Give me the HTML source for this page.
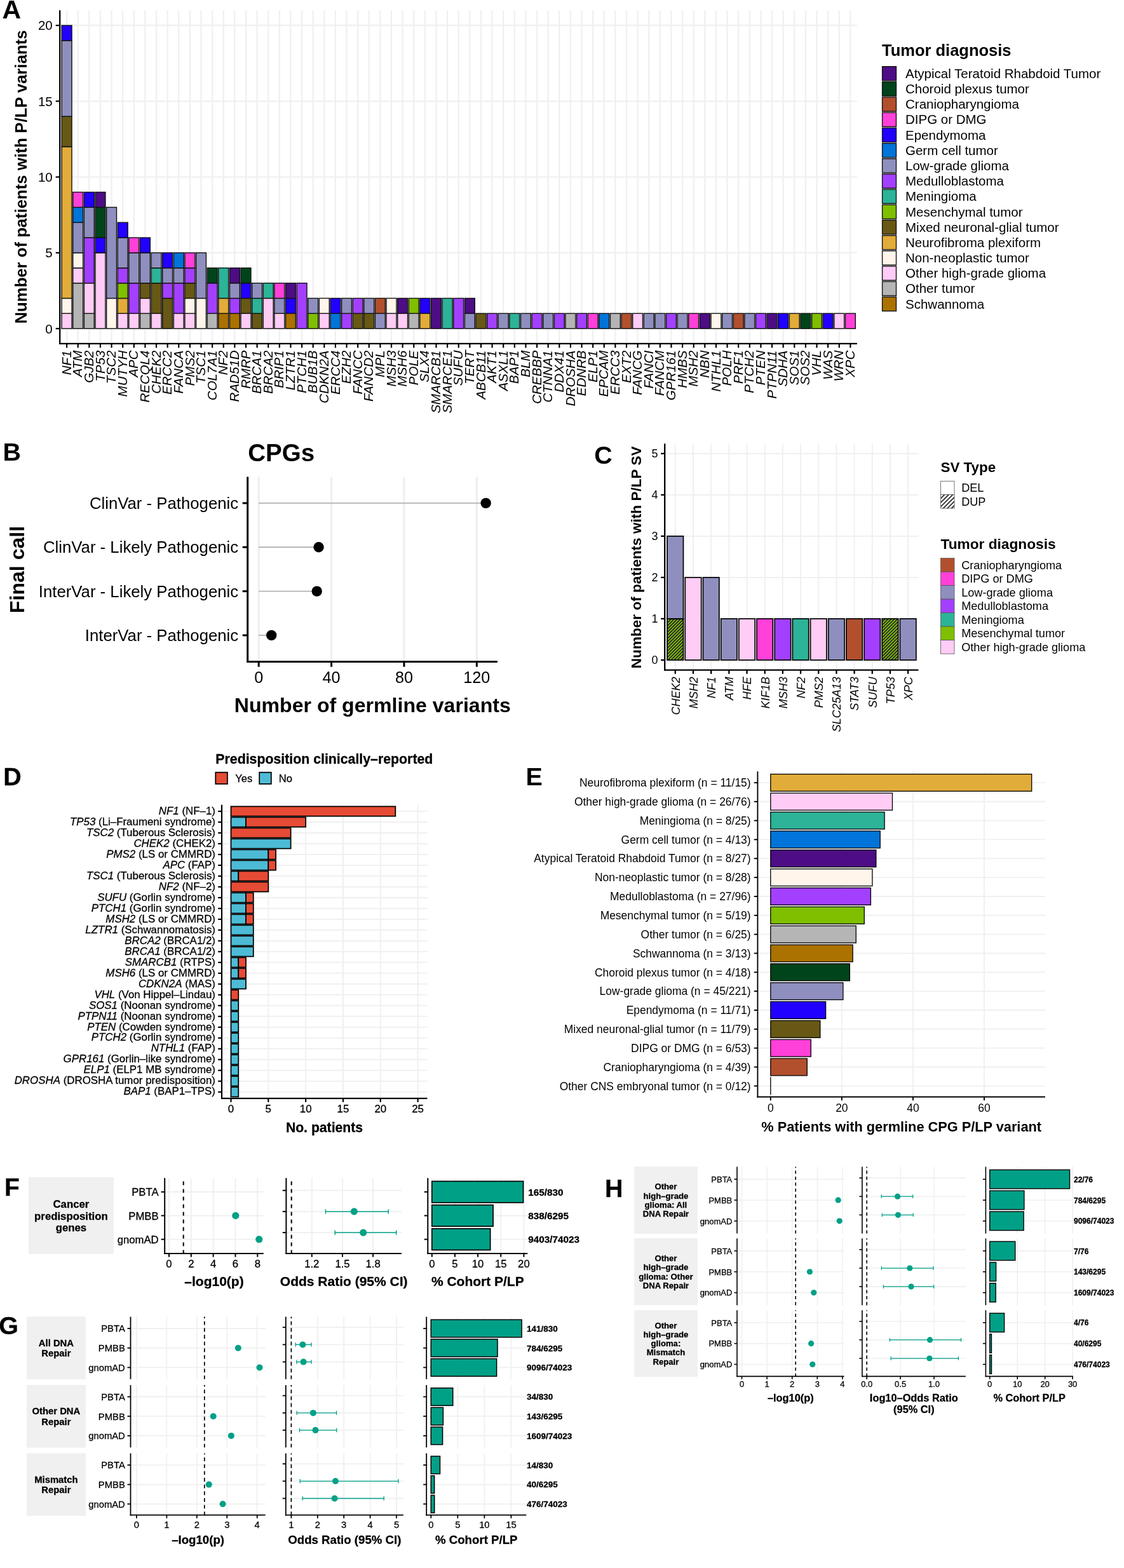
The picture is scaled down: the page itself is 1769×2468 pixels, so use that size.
<!DOCTYPE html>
<html lang="en">
<head>
<meta charset="utf-8">
<title>Figure</title>
<style>
html,body{margin:0;padding:0;background:#fff;}
body{width:1769px;height:2468px;overflow:hidden;}
svg{display:block;font-family:'Liberation Sans', sans-serif;}
text{white-space:pre;}
.rt text{stroke:#000;stroke-width:0.28px;paint-order:stroke fill;}
</style>
</head>
<body>
<svg width="1769" height="2468" viewBox="0 0 1769 2468">
<defs>
<pattern id="hatchC" patternUnits="userSpaceOnUse" width="3.5" height="3.5" patternTransform="rotate(-45)"><rect x="0" y="0" width="3.5" height="1.6" fill="#1c1530"/></pattern>
<pattern id="hatchL" patternUnits="userSpaceOnUse" width="4.6" height="4.6" patternTransform="rotate(-45)"><rect x="0" y="0" width="4.6" height="1.7" fill="#222"/></pattern>
</defs>
<rect x="0" y="0" width="1769" height="2468" fill="#ffffff"/>
<!-- Panel A -->
<g id="panelA">
<text x="3.50" y="28.60" font-size="41.00" font-weight="bold">A</text>
<line x1="94.20" y1="517.20" x2="1348.90" y2="517.20" stroke="#f0f0f0" stroke-width="2.30"/>
<line x1="94.20" y1="397.90" x2="1348.90" y2="397.90" stroke="#f0f0f0" stroke-width="2.30"/>
<line x1="94.20" y1="278.60" x2="1348.90" y2="278.60" stroke="#f0f0f0" stroke-width="2.30"/>
<line x1="94.20" y1="159.30" x2="1348.90" y2="159.30" stroke="#f0f0f0" stroke-width="2.30"/>
<line x1="94.20" y1="40.00" x2="1348.90" y2="40.00" stroke="#f0f0f0" stroke-width="2.30"/>
<line x1="105.10" y1="16.20" x2="105.10" y2="540.90" stroke="#f0f0f0" stroke-width="2.30"/>
<line x1="122.72" y1="16.20" x2="122.72" y2="540.90" stroke="#f0f0f0" stroke-width="2.30"/>
<line x1="140.34" y1="16.20" x2="140.34" y2="540.90" stroke="#f0f0f0" stroke-width="2.30"/>
<line x1="157.95" y1="16.20" x2="157.95" y2="540.90" stroke="#f0f0f0" stroke-width="2.30"/>
<line x1="175.57" y1="16.20" x2="175.57" y2="540.90" stroke="#f0f0f0" stroke-width="2.30"/>
<line x1="193.19" y1="16.20" x2="193.19" y2="540.90" stroke="#f0f0f0" stroke-width="2.30"/>
<line x1="210.81" y1="16.20" x2="210.81" y2="540.90" stroke="#f0f0f0" stroke-width="2.30"/>
<line x1="228.43" y1="16.20" x2="228.43" y2="540.90" stroke="#f0f0f0" stroke-width="2.30"/>
<line x1="246.04" y1="16.20" x2="246.04" y2="540.90" stroke="#f0f0f0" stroke-width="2.30"/>
<line x1="263.66" y1="16.20" x2="263.66" y2="540.90" stroke="#f0f0f0" stroke-width="2.30"/>
<line x1="281.28" y1="16.20" x2="281.28" y2="540.90" stroke="#f0f0f0" stroke-width="2.30"/>
<line x1="298.90" y1="16.20" x2="298.90" y2="540.90" stroke="#f0f0f0" stroke-width="2.30"/>
<line x1="316.52" y1="16.20" x2="316.52" y2="540.90" stroke="#f0f0f0" stroke-width="2.30"/>
<line x1="334.13" y1="16.20" x2="334.13" y2="540.90" stroke="#f0f0f0" stroke-width="2.30"/>
<line x1="351.75" y1="16.20" x2="351.75" y2="540.90" stroke="#f0f0f0" stroke-width="2.30"/>
<line x1="369.37" y1="16.20" x2="369.37" y2="540.90" stroke="#f0f0f0" stroke-width="2.30"/>
<line x1="386.99" y1="16.20" x2="386.99" y2="540.90" stroke="#f0f0f0" stroke-width="2.30"/>
<line x1="404.61" y1="16.20" x2="404.61" y2="540.90" stroke="#f0f0f0" stroke-width="2.30"/>
<line x1="422.22" y1="16.20" x2="422.22" y2="540.90" stroke="#f0f0f0" stroke-width="2.30"/>
<line x1="439.84" y1="16.20" x2="439.84" y2="540.90" stroke="#f0f0f0" stroke-width="2.30"/>
<line x1="457.46" y1="16.20" x2="457.46" y2="540.90" stroke="#f0f0f0" stroke-width="2.30"/>
<line x1="475.08" y1="16.20" x2="475.08" y2="540.90" stroke="#f0f0f0" stroke-width="2.30"/>
<line x1="492.70" y1="16.20" x2="492.70" y2="540.90" stroke="#f0f0f0" stroke-width="2.30"/>
<line x1="510.31" y1="16.20" x2="510.31" y2="540.90" stroke="#f0f0f0" stroke-width="2.30"/>
<line x1="527.93" y1="16.20" x2="527.93" y2="540.90" stroke="#f0f0f0" stroke-width="2.30"/>
<line x1="545.55" y1="16.20" x2="545.55" y2="540.90" stroke="#f0f0f0" stroke-width="2.30"/>
<line x1="563.17" y1="16.20" x2="563.17" y2="540.90" stroke="#f0f0f0" stroke-width="2.30"/>
<line x1="580.79" y1="16.20" x2="580.79" y2="540.90" stroke="#f0f0f0" stroke-width="2.30"/>
<line x1="598.40" y1="16.20" x2="598.40" y2="540.90" stroke="#f0f0f0" stroke-width="2.30"/>
<line x1="616.02" y1="16.20" x2="616.02" y2="540.90" stroke="#f0f0f0" stroke-width="2.30"/>
<line x1="633.64" y1="16.20" x2="633.64" y2="540.90" stroke="#f0f0f0" stroke-width="2.30"/>
<line x1="651.26" y1="16.20" x2="651.26" y2="540.90" stroke="#f0f0f0" stroke-width="2.30"/>
<line x1="668.88" y1="16.20" x2="668.88" y2="540.90" stroke="#f0f0f0" stroke-width="2.30"/>
<line x1="686.49" y1="16.20" x2="686.49" y2="540.90" stroke="#f0f0f0" stroke-width="2.30"/>
<line x1="704.11" y1="16.20" x2="704.11" y2="540.90" stroke="#f0f0f0" stroke-width="2.30"/>
<line x1="721.73" y1="16.20" x2="721.73" y2="540.90" stroke="#f0f0f0" stroke-width="2.30"/>
<line x1="739.35" y1="16.20" x2="739.35" y2="540.90" stroke="#f0f0f0" stroke-width="2.30"/>
<line x1="756.97" y1="16.20" x2="756.97" y2="540.90" stroke="#f0f0f0" stroke-width="2.30"/>
<line x1="774.58" y1="16.20" x2="774.58" y2="540.90" stroke="#f0f0f0" stroke-width="2.30"/>
<line x1="792.20" y1="16.20" x2="792.20" y2="540.90" stroke="#f0f0f0" stroke-width="2.30"/>
<line x1="809.82" y1="16.20" x2="809.82" y2="540.90" stroke="#f0f0f0" stroke-width="2.30"/>
<line x1="827.44" y1="16.20" x2="827.44" y2="540.90" stroke="#f0f0f0" stroke-width="2.30"/>
<line x1="845.06" y1="16.20" x2="845.06" y2="540.90" stroke="#f0f0f0" stroke-width="2.30"/>
<line x1="862.67" y1="16.20" x2="862.67" y2="540.90" stroke="#f0f0f0" stroke-width="2.30"/>
<line x1="880.29" y1="16.20" x2="880.29" y2="540.90" stroke="#f0f0f0" stroke-width="2.30"/>
<line x1="897.91" y1="16.20" x2="897.91" y2="540.90" stroke="#f0f0f0" stroke-width="2.30"/>
<line x1="915.53" y1="16.20" x2="915.53" y2="540.90" stroke="#f0f0f0" stroke-width="2.30"/>
<line x1="933.15" y1="16.20" x2="933.15" y2="540.90" stroke="#f0f0f0" stroke-width="2.30"/>
<line x1="950.76" y1="16.20" x2="950.76" y2="540.90" stroke="#f0f0f0" stroke-width="2.30"/>
<line x1="968.38" y1="16.20" x2="968.38" y2="540.90" stroke="#f0f0f0" stroke-width="2.30"/>
<line x1="986.00" y1="16.20" x2="986.00" y2="540.90" stroke="#f0f0f0" stroke-width="2.30"/>
<line x1="1003.62" y1="16.20" x2="1003.62" y2="540.90" stroke="#f0f0f0" stroke-width="2.30"/>
<line x1="1021.24" y1="16.20" x2="1021.24" y2="540.90" stroke="#f0f0f0" stroke-width="2.30"/>
<line x1="1038.85" y1="16.20" x2="1038.85" y2="540.90" stroke="#f0f0f0" stroke-width="2.30"/>
<line x1="1056.47" y1="16.20" x2="1056.47" y2="540.90" stroke="#f0f0f0" stroke-width="2.30"/>
<line x1="1074.09" y1="16.20" x2="1074.09" y2="540.90" stroke="#f0f0f0" stroke-width="2.30"/>
<line x1="1091.71" y1="16.20" x2="1091.71" y2="540.90" stroke="#f0f0f0" stroke-width="2.30"/>
<line x1="1109.33" y1="16.20" x2="1109.33" y2="540.90" stroke="#f0f0f0" stroke-width="2.30"/>
<line x1="1126.94" y1="16.20" x2="1126.94" y2="540.90" stroke="#f0f0f0" stroke-width="2.30"/>
<line x1="1144.56" y1="16.20" x2="1144.56" y2="540.90" stroke="#f0f0f0" stroke-width="2.30"/>
<line x1="1162.18" y1="16.20" x2="1162.18" y2="540.90" stroke="#f0f0f0" stroke-width="2.30"/>
<line x1="1179.80" y1="16.20" x2="1179.80" y2="540.90" stroke="#f0f0f0" stroke-width="2.30"/>
<line x1="1197.42" y1="16.20" x2="1197.42" y2="540.90" stroke="#f0f0f0" stroke-width="2.30"/>
<line x1="1215.03" y1="16.20" x2="1215.03" y2="540.90" stroke="#f0f0f0" stroke-width="2.30"/>
<line x1="1232.65" y1="16.20" x2="1232.65" y2="540.90" stroke="#f0f0f0" stroke-width="2.30"/>
<line x1="1250.27" y1="16.20" x2="1250.27" y2="540.90" stroke="#f0f0f0" stroke-width="2.30"/>
<line x1="1267.89" y1="16.20" x2="1267.89" y2="540.90" stroke="#f0f0f0" stroke-width="2.30"/>
<line x1="1285.51" y1="16.20" x2="1285.51" y2="540.90" stroke="#f0f0f0" stroke-width="2.30"/>
<line x1="1303.12" y1="16.20" x2="1303.12" y2="540.90" stroke="#f0f0f0" stroke-width="2.30"/>
<line x1="1320.74" y1="16.20" x2="1320.74" y2="540.90" stroke="#f0f0f0" stroke-width="2.30"/>
<line x1="1338.36" y1="16.20" x2="1338.36" y2="540.90" stroke="#f0f0f0" stroke-width="2.30"/>
<rect x="97.17" y="493.34" width="15.86" height="23.86" fill="#ffccf5" stroke="#111" stroke-width="1.40"/>
<rect x="97.17" y="469.48" width="15.86" height="23.86" fill="#fff5eb" stroke="#111" stroke-width="1.40"/>
<rect x="97.17" y="230.88" width="15.86" height="238.60" fill="#e2ac39" stroke="#111" stroke-width="1.40"/>
<rect x="97.17" y="183.16" width="15.86" height="47.72" fill="#685815" stroke="#111" stroke-width="1.40"/>
<rect x="97.17" y="63.86" width="15.86" height="119.30" fill="#8f8fbf" stroke="#111" stroke-width="1.40"/>
<rect x="97.17" y="40.00" width="15.86" height="23.86" fill="#2200ff" stroke="#111" stroke-width="1.40"/>
<rect x="114.79" y="445.62" width="15.86" height="71.58" fill="#b5b5b5" stroke="#111" stroke-width="1.40"/>
<rect x="114.79" y="421.76" width="15.86" height="23.86" fill="#ffccf5" stroke="#111" stroke-width="1.40"/>
<rect x="114.79" y="397.90" width="15.86" height="23.86" fill="#fff5eb" stroke="#111" stroke-width="1.40"/>
<rect x="114.79" y="350.18" width="15.86" height="47.72" fill="#8f8fbf" stroke="#111" stroke-width="1.40"/>
<rect x="114.79" y="326.32" width="15.86" height="23.86" fill="#0074d9" stroke="#111" stroke-width="1.40"/>
<rect x="114.79" y="302.46" width="15.86" height="23.86" fill="#ff40d9" stroke="#111" stroke-width="1.40"/>
<rect x="132.41" y="493.34" width="15.86" height="23.86" fill="#b5b5b5" stroke="#111" stroke-width="1.40"/>
<rect x="132.41" y="445.62" width="15.86" height="47.72" fill="#ffccf5" stroke="#111" stroke-width="1.40"/>
<rect x="132.41" y="374.04" width="15.86" height="71.58" fill="#a340ff" stroke="#111" stroke-width="1.40"/>
<rect x="132.41" y="326.32" width="15.86" height="47.72" fill="#8f8fbf" stroke="#111" stroke-width="1.40"/>
<rect x="132.41" y="302.46" width="15.86" height="23.86" fill="#2200ff" stroke="#111" stroke-width="1.40"/>
<rect x="150.03" y="397.90" width="15.86" height="119.30" fill="#ffccf5" stroke="#111" stroke-width="1.40"/>
<rect x="150.03" y="374.04" width="15.86" height="23.86" fill="#2200ff" stroke="#111" stroke-width="1.40"/>
<rect x="150.03" y="326.32" width="15.86" height="47.72" fill="#00441b" stroke="#111" stroke-width="1.40"/>
<rect x="150.03" y="302.46" width="15.86" height="23.86" fill="#4d0d85" stroke="#111" stroke-width="1.40"/>
<rect x="167.64" y="469.48" width="15.86" height="47.72" fill="#fff5eb" stroke="#111" stroke-width="1.40"/>
<rect x="167.64" y="326.32" width="15.86" height="143.16" fill="#8f8fbf" stroke="#111" stroke-width="1.40"/>
<rect x="185.26" y="493.34" width="15.86" height="23.86" fill="#ffccf5" stroke="#111" stroke-width="1.40"/>
<rect x="185.26" y="469.48" width="15.86" height="23.86" fill="#e2ac39" stroke="#111" stroke-width="1.40"/>
<rect x="185.26" y="445.62" width="15.86" height="23.86" fill="#7fbf00" stroke="#111" stroke-width="1.40"/>
<rect x="185.26" y="421.76" width="15.86" height="23.86" fill="#a340ff" stroke="#111" stroke-width="1.40"/>
<rect x="185.26" y="374.04" width="15.86" height="47.72" fill="#8f8fbf" stroke="#111" stroke-width="1.40"/>
<rect x="185.26" y="350.18" width="15.86" height="23.86" fill="#2200ff" stroke="#111" stroke-width="1.40"/>
<rect x="202.88" y="493.34" width="15.86" height="23.86" fill="#ffccf5" stroke="#111" stroke-width="1.40"/>
<rect x="202.88" y="445.62" width="15.86" height="47.72" fill="#a340ff" stroke="#111" stroke-width="1.40"/>
<rect x="202.88" y="397.90" width="15.86" height="47.72" fill="#8f8fbf" stroke="#111" stroke-width="1.40"/>
<rect x="202.88" y="374.04" width="15.86" height="23.86" fill="#ff40d9" stroke="#111" stroke-width="1.40"/>
<rect x="220.50" y="493.34" width="15.86" height="23.86" fill="#b5b5b5" stroke="#111" stroke-width="1.40"/>
<rect x="220.50" y="469.48" width="15.86" height="23.86" fill="#ffccf5" stroke="#111" stroke-width="1.40"/>
<rect x="220.50" y="445.62" width="15.86" height="23.86" fill="#685815" stroke="#111" stroke-width="1.40"/>
<rect x="220.50" y="397.90" width="15.86" height="47.72" fill="#8f8fbf" stroke="#111" stroke-width="1.40"/>
<rect x="220.50" y="374.04" width="15.86" height="23.86" fill="#2200ff" stroke="#111" stroke-width="1.40"/>
<rect x="238.12" y="493.34" width="15.86" height="23.86" fill="#ffccf5" stroke="#111" stroke-width="1.40"/>
<rect x="238.12" y="445.62" width="15.86" height="47.72" fill="#685815" stroke="#111" stroke-width="1.40"/>
<rect x="238.12" y="421.76" width="15.86" height="23.86" fill="#2db398" stroke="#111" stroke-width="1.40"/>
<rect x="238.12" y="397.90" width="15.86" height="23.86" fill="#8f8fbf" stroke="#111" stroke-width="1.40"/>
<rect x="255.73" y="469.48" width="15.86" height="47.72" fill="#685815" stroke="#111" stroke-width="1.40"/>
<rect x="255.73" y="445.62" width="15.86" height="23.86" fill="#a340ff" stroke="#111" stroke-width="1.40"/>
<rect x="255.73" y="421.76" width="15.86" height="23.86" fill="#8f8fbf" stroke="#111" stroke-width="1.40"/>
<rect x="255.73" y="397.90" width="15.86" height="23.86" fill="#2200ff" stroke="#111" stroke-width="1.40"/>
<rect x="273.35" y="493.34" width="15.86" height="23.86" fill="#ffccf5" stroke="#111" stroke-width="1.40"/>
<rect x="273.35" y="445.62" width="15.86" height="47.72" fill="#a340ff" stroke="#111" stroke-width="1.40"/>
<rect x="273.35" y="421.76" width="15.86" height="23.86" fill="#8f8fbf" stroke="#111" stroke-width="1.40"/>
<rect x="273.35" y="397.90" width="15.86" height="23.86" fill="#0074d9" stroke="#111" stroke-width="1.40"/>
<rect x="290.97" y="493.34" width="15.86" height="23.86" fill="#ffccf5" stroke="#111" stroke-width="1.40"/>
<rect x="290.97" y="469.48" width="15.86" height="23.86" fill="#fff5eb" stroke="#111" stroke-width="1.40"/>
<rect x="290.97" y="445.62" width="15.86" height="23.86" fill="#685815" stroke="#111" stroke-width="1.40"/>
<rect x="290.97" y="421.76" width="15.86" height="23.86" fill="#a340ff" stroke="#111" stroke-width="1.40"/>
<rect x="290.97" y="397.90" width="15.86" height="23.86" fill="#ff40d9" stroke="#111" stroke-width="1.40"/>
<rect x="308.59" y="469.48" width="15.86" height="47.72" fill="#fff5eb" stroke="#111" stroke-width="1.40"/>
<rect x="308.59" y="397.90" width="15.86" height="71.58" fill="#8f8fbf" stroke="#111" stroke-width="1.40"/>
<rect x="326.21" y="493.34" width="15.86" height="23.86" fill="#b5b5b5" stroke="#111" stroke-width="1.40"/>
<rect x="326.21" y="445.62" width="15.86" height="47.72" fill="#a340ff" stroke="#111" stroke-width="1.40"/>
<rect x="326.21" y="421.76" width="15.86" height="23.86" fill="#00441b" stroke="#111" stroke-width="1.40"/>
<rect x="343.82" y="493.34" width="15.86" height="23.86" fill="#ab7200" stroke="#111" stroke-width="1.40"/>
<rect x="343.82" y="469.48" width="15.86" height="23.86" fill="#e2ac39" stroke="#111" stroke-width="1.40"/>
<rect x="343.82" y="421.76" width="15.86" height="47.72" fill="#2db398" stroke="#111" stroke-width="1.40"/>
<rect x="361.44" y="493.34" width="15.86" height="23.86" fill="#ab7200" stroke="#111" stroke-width="1.40"/>
<rect x="361.44" y="469.48" width="15.86" height="23.86" fill="#a340ff" stroke="#111" stroke-width="1.40"/>
<rect x="361.44" y="445.62" width="15.86" height="23.86" fill="#8f8fbf" stroke="#111" stroke-width="1.40"/>
<rect x="361.44" y="421.76" width="15.86" height="23.86" fill="#4d0d85" stroke="#111" stroke-width="1.40"/>
<rect x="379.06" y="493.34" width="15.86" height="23.86" fill="#ffccf5" stroke="#111" stroke-width="1.40"/>
<rect x="379.06" y="469.48" width="15.86" height="23.86" fill="#685815" stroke="#111" stroke-width="1.40"/>
<rect x="379.06" y="445.62" width="15.86" height="23.86" fill="#2200ff" stroke="#111" stroke-width="1.40"/>
<rect x="379.06" y="421.76" width="15.86" height="23.86" fill="#00441b" stroke="#111" stroke-width="1.40"/>
<rect x="396.68" y="493.34" width="15.86" height="23.86" fill="#685815" stroke="#111" stroke-width="1.40"/>
<rect x="396.68" y="469.48" width="15.86" height="23.86" fill="#2db398" stroke="#111" stroke-width="1.40"/>
<rect x="396.68" y="445.62" width="15.86" height="23.86" fill="#8f8fbf" stroke="#111" stroke-width="1.40"/>
<rect x="414.30" y="469.48" width="15.86" height="47.72" fill="#ffccf5" stroke="#111" stroke-width="1.40"/>
<rect x="414.30" y="445.62" width="15.86" height="23.86" fill="#2db398" stroke="#111" stroke-width="1.40"/>
<rect x="431.91" y="493.34" width="15.86" height="23.86" fill="#ffccf5" stroke="#111" stroke-width="1.40"/>
<rect x="431.91" y="469.48" width="15.86" height="23.86" fill="#8f8fbf" stroke="#111" stroke-width="1.40"/>
<rect x="431.91" y="445.62" width="15.86" height="23.86" fill="#ff40d9" stroke="#111" stroke-width="1.40"/>
<rect x="449.53" y="493.34" width="15.86" height="23.86" fill="#ab7200" stroke="#111" stroke-width="1.40"/>
<rect x="449.53" y="469.48" width="15.86" height="23.86" fill="#2200ff" stroke="#111" stroke-width="1.40"/>
<rect x="449.53" y="445.62" width="15.86" height="23.86" fill="#4d0d85" stroke="#111" stroke-width="1.40"/>
<rect x="467.15" y="445.62" width="15.86" height="71.58" fill="#a340ff" stroke="#111" stroke-width="1.40"/>
<rect x="484.77" y="493.34" width="15.86" height="23.86" fill="#7fbf00" stroke="#111" stroke-width="1.40"/>
<rect x="484.77" y="469.48" width="15.86" height="23.86" fill="#8f8fbf" stroke="#111" stroke-width="1.40"/>
<rect x="502.39" y="493.34" width="15.86" height="23.86" fill="#ffccf5" stroke="#111" stroke-width="1.40"/>
<rect x="502.39" y="469.48" width="15.86" height="23.86" fill="#fff5eb" stroke="#111" stroke-width="1.40"/>
<rect x="520.00" y="493.34" width="15.86" height="23.86" fill="#0074d9" stroke="#111" stroke-width="1.40"/>
<rect x="520.00" y="469.48" width="15.86" height="23.86" fill="#2200ff" stroke="#111" stroke-width="1.40"/>
<rect x="537.62" y="493.34" width="15.86" height="23.86" fill="#a340ff" stroke="#111" stroke-width="1.40"/>
<rect x="537.62" y="469.48" width="15.86" height="23.86" fill="#8f8fbf" stroke="#111" stroke-width="1.40"/>
<rect x="555.24" y="493.34" width="15.86" height="23.86" fill="#685815" stroke="#111" stroke-width="1.40"/>
<rect x="555.24" y="469.48" width="15.86" height="23.86" fill="#a340ff" stroke="#111" stroke-width="1.40"/>
<rect x="572.86" y="493.34" width="15.86" height="23.86" fill="#685815" stroke="#111" stroke-width="1.40"/>
<rect x="572.86" y="469.48" width="15.86" height="23.86" fill="#8f8fbf" stroke="#111" stroke-width="1.40"/>
<rect x="590.48" y="493.34" width="15.86" height="23.86" fill="#8f8fbf" stroke="#111" stroke-width="1.40"/>
<rect x="590.48" y="469.48" width="15.86" height="23.86" fill="#b2502d" stroke="#111" stroke-width="1.40"/>
<rect x="608.09" y="493.34" width="15.86" height="23.86" fill="#ffccf5" stroke="#111" stroke-width="1.40"/>
<rect x="608.09" y="469.48" width="15.86" height="23.86" fill="#fff5eb" stroke="#111" stroke-width="1.40"/>
<rect x="625.71" y="493.34" width="15.86" height="23.86" fill="#ffccf5" stroke="#111" stroke-width="1.40"/>
<rect x="625.71" y="469.48" width="15.86" height="23.86" fill="#4d0d85" stroke="#111" stroke-width="1.40"/>
<rect x="643.33" y="493.34" width="15.86" height="23.86" fill="#b5b5b5" stroke="#111" stroke-width="1.40"/>
<rect x="643.33" y="469.48" width="15.86" height="23.86" fill="#7fbf00" stroke="#111" stroke-width="1.40"/>
<rect x="660.95" y="493.34" width="15.86" height="23.86" fill="#e2ac39" stroke="#111" stroke-width="1.40"/>
<rect x="660.95" y="469.48" width="15.86" height="23.86" fill="#2200ff" stroke="#111" stroke-width="1.40"/>
<rect x="678.57" y="469.48" width="15.86" height="47.72" fill="#4d0d85" stroke="#111" stroke-width="1.40"/>
<rect x="696.18" y="469.48" width="15.86" height="47.72" fill="#2db398" stroke="#111" stroke-width="1.40"/>
<rect x="713.80" y="469.48" width="15.86" height="47.72" fill="#a340ff" stroke="#111" stroke-width="1.40"/>
<rect x="731.42" y="493.34" width="15.86" height="23.86" fill="#8f8fbf" stroke="#111" stroke-width="1.40"/>
<rect x="731.42" y="469.48" width="15.86" height="23.86" fill="#4d0d85" stroke="#111" stroke-width="1.40"/>
<rect x="749.04" y="493.34" width="15.86" height="23.86" fill="#685815" stroke="#111" stroke-width="1.40"/>
<rect x="766.66" y="493.34" width="15.86" height="23.86" fill="#a340ff" stroke="#111" stroke-width="1.40"/>
<rect x="784.27" y="493.34" width="15.86" height="23.86" fill="#8f8fbf" stroke="#111" stroke-width="1.40"/>
<rect x="801.89" y="493.34" width="15.86" height="23.86" fill="#2db398" stroke="#111" stroke-width="1.40"/>
<rect x="819.51" y="493.34" width="15.86" height="23.86" fill="#8f8fbf" stroke="#111" stroke-width="1.40"/>
<rect x="837.13" y="493.34" width="15.86" height="23.86" fill="#a340ff" stroke="#111" stroke-width="1.40"/>
<rect x="854.75" y="493.34" width="15.86" height="23.86" fill="#8f8fbf" stroke="#111" stroke-width="1.40"/>
<rect x="872.36" y="493.34" width="15.86" height="23.86" fill="#a340ff" stroke="#111" stroke-width="1.40"/>
<rect x="889.98" y="493.34" width="15.86" height="23.86" fill="#b5b5b5" stroke="#111" stroke-width="1.40"/>
<rect x="907.60" y="493.34" width="15.86" height="23.86" fill="#a340ff" stroke="#111" stroke-width="1.40"/>
<rect x="925.22" y="493.34" width="15.86" height="23.86" fill="#ff40d9" stroke="#111" stroke-width="1.40"/>
<rect x="942.84" y="493.34" width="15.86" height="23.86" fill="#0074d9" stroke="#111" stroke-width="1.40"/>
<rect x="960.45" y="493.34" width="15.86" height="23.86" fill="#b5b5b5" stroke="#111" stroke-width="1.40"/>
<rect x="978.07" y="493.34" width="15.86" height="23.86" fill="#b2502d" stroke="#111" stroke-width="1.40"/>
<rect x="995.69" y="493.34" width="15.86" height="23.86" fill="#ffccf5" stroke="#111" stroke-width="1.40"/>
<rect x="1013.31" y="493.34" width="15.86" height="23.86" fill="#8f8fbf" stroke="#111" stroke-width="1.40"/>
<rect x="1030.93" y="493.34" width="15.86" height="23.86" fill="#8f8fbf" stroke="#111" stroke-width="1.40"/>
<rect x="1048.54" y="493.34" width="15.86" height="23.86" fill="#a340ff" stroke="#111" stroke-width="1.40"/>
<rect x="1066.16" y="493.34" width="15.86" height="23.86" fill="#8f8fbf" stroke="#111" stroke-width="1.40"/>
<rect x="1083.78" y="493.34" width="15.86" height="23.86" fill="#ff40d9" stroke="#111" stroke-width="1.40"/>
<rect x="1101.40" y="493.34" width="15.86" height="23.86" fill="#4d0d85" stroke="#111" stroke-width="1.40"/>
<rect x="1119.02" y="493.34" width="15.86" height="23.86" fill="#fff5eb" stroke="#111" stroke-width="1.40"/>
<rect x="1136.63" y="493.34" width="15.86" height="23.86" fill="#8f8fbf" stroke="#111" stroke-width="1.40"/>
<rect x="1154.25" y="493.34" width="15.86" height="23.86" fill="#b2502d" stroke="#111" stroke-width="1.40"/>
<rect x="1171.87" y="493.34" width="15.86" height="23.86" fill="#8f8fbf" stroke="#111" stroke-width="1.40"/>
<rect x="1189.49" y="493.34" width="15.86" height="23.86" fill="#a340ff" stroke="#111" stroke-width="1.40"/>
<rect x="1207.11" y="493.34" width="15.86" height="23.86" fill="#4d0d85" stroke="#111" stroke-width="1.40"/>
<rect x="1224.72" y="493.34" width="15.86" height="23.86" fill="#2200ff" stroke="#111" stroke-width="1.40"/>
<rect x="1242.34" y="493.34" width="15.86" height="23.86" fill="#e2ac39" stroke="#111" stroke-width="1.40"/>
<rect x="1259.96" y="493.34" width="15.86" height="23.86" fill="#00441b" stroke="#111" stroke-width="1.40"/>
<rect x="1277.58" y="493.34" width="15.86" height="23.86" fill="#7fbf00" stroke="#111" stroke-width="1.40"/>
<rect x="1295.20" y="493.34" width="15.86" height="23.86" fill="#2200ff" stroke="#111" stroke-width="1.40"/>
<rect x="1312.81" y="493.34" width="15.86" height="23.86" fill="#ffccf5" stroke="#111" stroke-width="1.40"/>
<rect x="1330.43" y="493.34" width="15.86" height="23.86" fill="#ff40d9" stroke="#111" stroke-width="1.40"/>
<line x1="94.20" y1="16.20" x2="94.20" y2="542.00" stroke="#000" stroke-width="2.30"/>
<line x1="93.10" y1="540.90" x2="1348.90" y2="540.90" stroke="#000" stroke-width="2.20"/>
<line x1="87.70" y1="517.20" x2="94.20" y2="517.20" stroke="#000" stroke-width="2.20"/>
<text x="82.70" y="524.50" font-size="20.50" text-anchor="end">0</text>
<line x1="87.70" y1="397.90" x2="94.20" y2="397.90" stroke="#000" stroke-width="2.20"/>
<text x="82.70" y="405.20" font-size="20.50" text-anchor="end">5</text>
<line x1="87.70" y1="278.60" x2="94.20" y2="278.60" stroke="#000" stroke-width="2.20"/>
<text x="82.70" y="285.90" font-size="20.50" text-anchor="end">10</text>
<line x1="87.70" y1="159.30" x2="94.20" y2="159.30" stroke="#000" stroke-width="2.20"/>
<text x="82.70" y="166.60" font-size="20.50" text-anchor="end">15</text>
<line x1="87.70" y1="40.00" x2="94.20" y2="40.00" stroke="#000" stroke-width="2.20"/>
<text x="82.70" y="47.30" font-size="20.50" text-anchor="end">20</text>
<line x1="105.10" y1="540.90" x2="105.10" y2="547.40" stroke="#000" stroke-width="2.20"/>
<text x="111.70" y="551.50" font-size="20.50" font-style="italic" text-anchor="end" transform="rotate(-90 111.70 551.50)">NF1</text>
<line x1="122.72" y1="540.90" x2="122.72" y2="547.40" stroke="#000" stroke-width="2.20"/>
<text x="129.32" y="551.50" font-size="20.50" font-style="italic" text-anchor="end" transform="rotate(-90 129.32 551.50)">ATM</text>
<line x1="140.34" y1="540.90" x2="140.34" y2="547.40" stroke="#000" stroke-width="2.20"/>
<text x="146.94" y="551.50" font-size="20.50" font-style="italic" text-anchor="end" transform="rotate(-90 146.94 551.50)">GJB2</text>
<line x1="157.95" y1="540.90" x2="157.95" y2="547.40" stroke="#000" stroke-width="2.20"/>
<text x="164.55" y="551.50" font-size="20.50" font-style="italic" text-anchor="end" transform="rotate(-90 164.55 551.50)">TP53</text>
<line x1="175.57" y1="540.90" x2="175.57" y2="547.40" stroke="#000" stroke-width="2.20"/>
<text x="182.17" y="551.50" font-size="20.50" font-style="italic" text-anchor="end" transform="rotate(-90 182.17 551.50)">TSC2</text>
<line x1="193.19" y1="540.90" x2="193.19" y2="547.40" stroke="#000" stroke-width="2.20"/>
<text x="199.79" y="551.50" font-size="20.50" font-style="italic" text-anchor="end" transform="rotate(-90 199.79 551.50)">MUTYH</text>
<line x1="210.81" y1="540.90" x2="210.81" y2="547.40" stroke="#000" stroke-width="2.20"/>
<text x="217.41" y="551.50" font-size="20.50" font-style="italic" text-anchor="end" transform="rotate(-90 217.41 551.50)">APC</text>
<line x1="228.43" y1="540.90" x2="228.43" y2="547.40" stroke="#000" stroke-width="2.20"/>
<text x="235.03" y="551.50" font-size="20.50" font-style="italic" text-anchor="end" transform="rotate(-90 235.03 551.50)">RECQL4</text>
<line x1="246.04" y1="540.90" x2="246.04" y2="547.40" stroke="#000" stroke-width="2.20"/>
<text x="252.64" y="551.50" font-size="20.50" font-style="italic" text-anchor="end" transform="rotate(-90 252.64 551.50)">CHEK2</text>
<line x1="263.66" y1="540.90" x2="263.66" y2="547.40" stroke="#000" stroke-width="2.20"/>
<text x="270.26" y="551.50" font-size="20.50" font-style="italic" text-anchor="end" transform="rotate(-90 270.26 551.50)">ERCC2</text>
<line x1="281.28" y1="540.90" x2="281.28" y2="547.40" stroke="#000" stroke-width="2.20"/>
<text x="287.88" y="551.50" font-size="20.50" font-style="italic" text-anchor="end" transform="rotate(-90 287.88 551.50)">FANCA</text>
<line x1="298.90" y1="540.90" x2="298.90" y2="547.40" stroke="#000" stroke-width="2.20"/>
<text x="305.50" y="551.50" font-size="20.50" font-style="italic" text-anchor="end" transform="rotate(-90 305.50 551.50)">PMS2</text>
<line x1="316.52" y1="540.90" x2="316.52" y2="547.40" stroke="#000" stroke-width="2.20"/>
<text x="323.12" y="551.50" font-size="20.50" font-style="italic" text-anchor="end" transform="rotate(-90 323.12 551.50)">TSC1</text>
<line x1="334.13" y1="540.90" x2="334.13" y2="547.40" stroke="#000" stroke-width="2.20"/>
<text x="340.73" y="551.50" font-size="20.50" font-style="italic" text-anchor="end" transform="rotate(-90 340.73 551.50)">COL7A1</text>
<line x1="351.75" y1="540.90" x2="351.75" y2="547.40" stroke="#000" stroke-width="2.20"/>
<text x="358.35" y="551.50" font-size="20.50" font-style="italic" text-anchor="end" transform="rotate(-90 358.35 551.50)">NF2</text>
<line x1="369.37" y1="540.90" x2="369.37" y2="547.40" stroke="#000" stroke-width="2.20"/>
<text x="375.97" y="551.50" font-size="20.50" font-style="italic" text-anchor="end" transform="rotate(-90 375.97 551.50)">RAD51D</text>
<line x1="386.99" y1="540.90" x2="386.99" y2="547.40" stroke="#000" stroke-width="2.20"/>
<text x="393.59" y="551.50" font-size="20.50" font-style="italic" text-anchor="end" transform="rotate(-90 393.59 551.50)">RMRP</text>
<line x1="404.61" y1="540.90" x2="404.61" y2="547.40" stroke="#000" stroke-width="2.20"/>
<text x="411.21" y="551.50" font-size="20.50" font-style="italic" text-anchor="end" transform="rotate(-90 411.21 551.50)">BRCA1</text>
<line x1="422.22" y1="540.90" x2="422.22" y2="547.40" stroke="#000" stroke-width="2.20"/>
<text x="428.82" y="551.50" font-size="20.50" font-style="italic" text-anchor="end" transform="rotate(-90 428.82 551.50)">BRCA2</text>
<line x1="439.84" y1="540.90" x2="439.84" y2="547.40" stroke="#000" stroke-width="2.20"/>
<text x="446.44" y="551.50" font-size="20.50" font-style="italic" text-anchor="end" transform="rotate(-90 446.44 551.50)">BRIP1</text>
<line x1="457.46" y1="540.90" x2="457.46" y2="547.40" stroke="#000" stroke-width="2.20"/>
<text x="464.06" y="551.50" font-size="20.50" font-style="italic" text-anchor="end" transform="rotate(-90 464.06 551.50)">LZTR1</text>
<line x1="475.08" y1="540.90" x2="475.08" y2="547.40" stroke="#000" stroke-width="2.20"/>
<text x="481.68" y="551.50" font-size="20.50" font-style="italic" text-anchor="end" transform="rotate(-90 481.68 551.50)">PTCH1</text>
<line x1="492.70" y1="540.90" x2="492.70" y2="547.40" stroke="#000" stroke-width="2.20"/>
<text x="499.30" y="551.50" font-size="20.50" font-style="italic" text-anchor="end" transform="rotate(-90 499.30 551.50)">BUB1B</text>
<line x1="510.31" y1="540.90" x2="510.31" y2="547.40" stroke="#000" stroke-width="2.20"/>
<text x="516.91" y="551.50" font-size="20.50" font-style="italic" text-anchor="end" transform="rotate(-90 516.91 551.50)">CDKN2A</text>
<line x1="527.93" y1="540.90" x2="527.93" y2="547.40" stroke="#000" stroke-width="2.20"/>
<text x="534.53" y="551.50" font-size="20.50" font-style="italic" text-anchor="end" transform="rotate(-90 534.53 551.50)">ERCC4</text>
<line x1="545.55" y1="540.90" x2="545.55" y2="547.40" stroke="#000" stroke-width="2.20"/>
<text x="552.15" y="551.50" font-size="20.50" font-style="italic" text-anchor="end" transform="rotate(-90 552.15 551.50)">EZH2</text>
<line x1="563.17" y1="540.90" x2="563.17" y2="547.40" stroke="#000" stroke-width="2.20"/>
<text x="569.77" y="551.50" font-size="20.50" font-style="italic" text-anchor="end" transform="rotate(-90 569.77 551.50)">FANCC</text>
<line x1="580.79" y1="540.90" x2="580.79" y2="547.40" stroke="#000" stroke-width="2.20"/>
<text x="587.39" y="551.50" font-size="20.50" font-style="italic" text-anchor="end" transform="rotate(-90 587.39 551.50)">FANCD2</text>
<line x1="598.40" y1="540.90" x2="598.40" y2="547.40" stroke="#000" stroke-width="2.20"/>
<text x="605.00" y="551.50" font-size="20.50" font-style="italic" text-anchor="end" transform="rotate(-90 605.00 551.50)">MPL</text>
<line x1="616.02" y1="540.90" x2="616.02" y2="547.40" stroke="#000" stroke-width="2.20"/>
<text x="622.62" y="551.50" font-size="20.50" font-style="italic" text-anchor="end" transform="rotate(-90 622.62 551.50)">MSH3</text>
<line x1="633.64" y1="540.90" x2="633.64" y2="547.40" stroke="#000" stroke-width="2.20"/>
<text x="640.24" y="551.50" font-size="20.50" font-style="italic" text-anchor="end" transform="rotate(-90 640.24 551.50)">MSH6</text>
<line x1="651.26" y1="540.90" x2="651.26" y2="547.40" stroke="#000" stroke-width="2.20"/>
<text x="657.86" y="551.50" font-size="20.50" font-style="italic" text-anchor="end" transform="rotate(-90 657.86 551.50)">POLE</text>
<line x1="668.88" y1="540.90" x2="668.88" y2="547.40" stroke="#000" stroke-width="2.20"/>
<text x="675.48" y="551.50" font-size="20.50" font-style="italic" text-anchor="end" transform="rotate(-90 675.48 551.50)">SLX4</text>
<line x1="686.49" y1="540.90" x2="686.49" y2="547.40" stroke="#000" stroke-width="2.20"/>
<text x="693.09" y="551.50" font-size="20.50" font-style="italic" text-anchor="end" transform="rotate(-90 693.09 551.50)">SMARCB1</text>
<line x1="704.11" y1="540.90" x2="704.11" y2="547.40" stroke="#000" stroke-width="2.20"/>
<text x="710.71" y="551.50" font-size="20.50" font-style="italic" text-anchor="end" transform="rotate(-90 710.71 551.50)">SMARCE1</text>
<line x1="721.73" y1="540.90" x2="721.73" y2="547.40" stroke="#000" stroke-width="2.20"/>
<text x="728.33" y="551.50" font-size="20.50" font-style="italic" text-anchor="end" transform="rotate(-90 728.33 551.50)">SUFU</text>
<line x1="739.35" y1="540.90" x2="739.35" y2="547.40" stroke="#000" stroke-width="2.20"/>
<text x="745.95" y="551.50" font-size="20.50" font-style="italic" text-anchor="end" transform="rotate(-90 745.95 551.50)">TERT</text>
<line x1="756.97" y1="540.90" x2="756.97" y2="547.40" stroke="#000" stroke-width="2.20"/>
<text x="763.57" y="551.50" font-size="20.50" font-style="italic" text-anchor="end" transform="rotate(-90 763.57 551.50)">ABCB11</text>
<line x1="774.58" y1="540.90" x2="774.58" y2="547.40" stroke="#000" stroke-width="2.20"/>
<text x="781.18" y="551.50" font-size="20.50" font-style="italic" text-anchor="end" transform="rotate(-90 781.18 551.50)">AKT1</text>
<line x1="792.20" y1="540.90" x2="792.20" y2="547.40" stroke="#000" stroke-width="2.20"/>
<text x="798.80" y="551.50" font-size="20.50" font-style="italic" text-anchor="end" transform="rotate(-90 798.80 551.50)">ASXL1</text>
<line x1="809.82" y1="540.90" x2="809.82" y2="547.40" stroke="#000" stroke-width="2.20"/>
<text x="816.42" y="551.50" font-size="20.50" font-style="italic" text-anchor="end" transform="rotate(-90 816.42 551.50)">BAP1</text>
<line x1="827.44" y1="540.90" x2="827.44" y2="547.40" stroke="#000" stroke-width="2.20"/>
<text x="834.04" y="551.50" font-size="20.50" font-style="italic" text-anchor="end" transform="rotate(-90 834.04 551.50)">BLM</text>
<line x1="845.06" y1="540.90" x2="845.06" y2="547.40" stroke="#000" stroke-width="2.20"/>
<text x="851.66" y="551.50" font-size="20.50" font-style="italic" text-anchor="end" transform="rotate(-90 851.66 551.50)">CREBBP</text>
<line x1="862.67" y1="540.90" x2="862.67" y2="547.40" stroke="#000" stroke-width="2.20"/>
<text x="869.27" y="551.50" font-size="20.50" font-style="italic" text-anchor="end" transform="rotate(-90 869.27 551.50)">CTNNA1</text>
<line x1="880.29" y1="540.90" x2="880.29" y2="547.40" stroke="#000" stroke-width="2.20"/>
<text x="886.89" y="551.50" font-size="20.50" font-style="italic" text-anchor="end" transform="rotate(-90 886.89 551.50)">DDX41</text>
<line x1="897.91" y1="540.90" x2="897.91" y2="547.40" stroke="#000" stroke-width="2.20"/>
<text x="904.51" y="551.50" font-size="20.50" font-style="italic" text-anchor="end" transform="rotate(-90 904.51 551.50)">DROSHA</text>
<line x1="915.53" y1="540.90" x2="915.53" y2="547.40" stroke="#000" stroke-width="2.20"/>
<text x="922.13" y="551.50" font-size="20.50" font-style="italic" text-anchor="end" transform="rotate(-90 922.13 551.50)">EDNRB</text>
<line x1="933.15" y1="540.90" x2="933.15" y2="547.40" stroke="#000" stroke-width="2.20"/>
<text x="939.75" y="551.50" font-size="20.50" font-style="italic" text-anchor="end" transform="rotate(-90 939.75 551.50)">ELP1</text>
<line x1="950.76" y1="540.90" x2="950.76" y2="547.40" stroke="#000" stroke-width="2.20"/>
<text x="957.36" y="551.50" font-size="20.50" font-style="italic" text-anchor="end" transform="rotate(-90 957.36 551.50)">EPCAM</text>
<line x1="968.38" y1="540.90" x2="968.38" y2="547.40" stroke="#000" stroke-width="2.20"/>
<text x="974.98" y="551.50" font-size="20.50" font-style="italic" text-anchor="end" transform="rotate(-90 974.98 551.50)">ERCC3</text>
<line x1="986.00" y1="540.90" x2="986.00" y2="547.40" stroke="#000" stroke-width="2.20"/>
<text x="992.60" y="551.50" font-size="20.50" font-style="italic" text-anchor="end" transform="rotate(-90 992.60 551.50)">EXT2</text>
<line x1="1003.62" y1="540.90" x2="1003.62" y2="547.40" stroke="#000" stroke-width="2.20"/>
<text x="1010.22" y="551.50" font-size="20.50" font-style="italic" text-anchor="end" transform="rotate(-90 1010.22 551.50)">FANCG</text>
<line x1="1021.24" y1="540.90" x2="1021.24" y2="547.40" stroke="#000" stroke-width="2.20"/>
<text x="1027.84" y="551.50" font-size="20.50" font-style="italic" text-anchor="end" transform="rotate(-90 1027.84 551.50)">FANCI</text>
<line x1="1038.85" y1="540.90" x2="1038.85" y2="547.40" stroke="#000" stroke-width="2.20"/>
<text x="1045.45" y="551.50" font-size="20.50" font-style="italic" text-anchor="end" transform="rotate(-90 1045.45 551.50)">FANCM</text>
<line x1="1056.47" y1="540.90" x2="1056.47" y2="547.40" stroke="#000" stroke-width="2.20"/>
<text x="1063.07" y="551.50" font-size="20.50" font-style="italic" text-anchor="end" transform="rotate(-90 1063.07 551.50)">GPR161</text>
<line x1="1074.09" y1="540.90" x2="1074.09" y2="547.40" stroke="#000" stroke-width="2.20"/>
<text x="1080.69" y="551.50" font-size="20.50" font-style="italic" text-anchor="end" transform="rotate(-90 1080.69 551.50)">HMBS</text>
<line x1="1091.71" y1="540.90" x2="1091.71" y2="547.40" stroke="#000" stroke-width="2.20"/>
<text x="1098.31" y="551.50" font-size="20.50" font-style="italic" text-anchor="end" transform="rotate(-90 1098.31 551.50)">MSH2</text>
<line x1="1109.33" y1="540.90" x2="1109.33" y2="547.40" stroke="#000" stroke-width="2.20"/>
<text x="1115.93" y="551.50" font-size="20.50" font-style="italic" text-anchor="end" transform="rotate(-90 1115.93 551.50)">NBN</text>
<line x1="1126.94" y1="540.90" x2="1126.94" y2="547.40" stroke="#000" stroke-width="2.20"/>
<text x="1133.54" y="551.50" font-size="20.50" font-style="italic" text-anchor="end" transform="rotate(-90 1133.54 551.50)">NTHL1</text>
<line x1="1144.56" y1="540.90" x2="1144.56" y2="547.40" stroke="#000" stroke-width="2.20"/>
<text x="1151.16" y="551.50" font-size="20.50" font-style="italic" text-anchor="end" transform="rotate(-90 1151.16 551.50)">POLH</text>
<line x1="1162.18" y1="540.90" x2="1162.18" y2="547.40" stroke="#000" stroke-width="2.20"/>
<text x="1168.78" y="551.50" font-size="20.50" font-style="italic" text-anchor="end" transform="rotate(-90 1168.78 551.50)">PRF1</text>
<line x1="1179.80" y1="540.90" x2="1179.80" y2="547.40" stroke="#000" stroke-width="2.20"/>
<text x="1186.40" y="551.50" font-size="20.50" font-style="italic" text-anchor="end" transform="rotate(-90 1186.40 551.50)">PTCH2</text>
<line x1="1197.42" y1="540.90" x2="1197.42" y2="547.40" stroke="#000" stroke-width="2.20"/>
<text x="1204.02" y="551.50" font-size="20.50" font-style="italic" text-anchor="end" transform="rotate(-90 1204.02 551.50)">PTEN</text>
<line x1="1215.03" y1="540.90" x2="1215.03" y2="547.40" stroke="#000" stroke-width="2.20"/>
<text x="1221.63" y="551.50" font-size="20.50" font-style="italic" text-anchor="end" transform="rotate(-90 1221.63 551.50)">PTPN11</text>
<line x1="1232.65" y1="540.90" x2="1232.65" y2="547.40" stroke="#000" stroke-width="2.20"/>
<text x="1239.25" y="551.50" font-size="20.50" font-style="italic" text-anchor="end" transform="rotate(-90 1239.25 551.50)">SDHA</text>
<line x1="1250.27" y1="540.90" x2="1250.27" y2="547.40" stroke="#000" stroke-width="2.20"/>
<text x="1256.87" y="551.50" font-size="20.50" font-style="italic" text-anchor="end" transform="rotate(-90 1256.87 551.50)">SOS1</text>
<line x1="1267.89" y1="540.90" x2="1267.89" y2="547.40" stroke="#000" stroke-width="2.20"/>
<text x="1274.49" y="551.50" font-size="20.50" font-style="italic" text-anchor="end" transform="rotate(-90 1274.49 551.50)">SOS2</text>
<line x1="1285.51" y1="540.90" x2="1285.51" y2="547.40" stroke="#000" stroke-width="2.20"/>
<text x="1292.11" y="551.50" font-size="20.50" font-style="italic" text-anchor="end" transform="rotate(-90 1292.11 551.50)">VHL</text>
<line x1="1303.12" y1="540.90" x2="1303.12" y2="547.40" stroke="#000" stroke-width="2.20"/>
<text x="1309.72" y="551.50" font-size="20.50" font-style="italic" text-anchor="end" transform="rotate(-90 1309.72 551.50)">WAS</text>
<line x1="1320.74" y1="540.90" x2="1320.74" y2="547.40" stroke="#000" stroke-width="2.20"/>
<text x="1327.34" y="551.50" font-size="20.50" font-style="italic" text-anchor="end" transform="rotate(-90 1327.34 551.50)">WRN</text>
<line x1="1338.36" y1="540.90" x2="1338.36" y2="547.40" stroke="#000" stroke-width="2.20"/>
<text x="1344.96" y="551.50" font-size="20.50" font-style="italic" text-anchor="end" transform="rotate(-90 1344.96 551.50)">XPC</text>
<text x="42.10" y="278.45" font-size="25.70" font-weight="bold" text-anchor="middle" transform="rotate(-90 42.10 278.45)">Number of patients with P/LP variants</text>
<text x="1388.00" y="87.90" font-size="25.50" font-weight="bold">Tumor diagnosis</text>
<rect x="1388.60" y="104.70" width="21.90" height="22.18" fill="#4d0d85" stroke="#111" stroke-width="1.40"/>
<text x="1425.00" y="122.89" font-size="20.50">Atypical Teratoid Rhabdoid Tumor</text>
<rect x="1388.60" y="128.88" width="21.90" height="22.18" fill="#00441b" stroke="#111" stroke-width="1.40"/>
<text x="1425.00" y="147.07" font-size="20.50">Choroid plexus tumor</text>
<rect x="1388.60" y="153.06" width="21.90" height="22.18" fill="#b2502d" stroke="#111" stroke-width="1.40"/>
<text x="1425.00" y="171.25" font-size="20.50">Craniopharyngioma</text>
<rect x="1388.60" y="177.24" width="21.90" height="22.18" fill="#ff40d9" stroke="#111" stroke-width="1.40"/>
<text x="1425.00" y="195.43" font-size="20.50">DIPG or DMG</text>
<rect x="1388.60" y="201.42" width="21.90" height="22.18" fill="#2200ff" stroke="#111" stroke-width="1.40"/>
<text x="1425.00" y="219.61" font-size="20.50">Ependymoma</text>
<rect x="1388.60" y="225.60" width="21.90" height="22.18" fill="#0074d9" stroke="#111" stroke-width="1.40"/>
<text x="1425.00" y="243.79" font-size="20.50">Germ cell tumor</text>
<rect x="1388.60" y="249.78" width="21.90" height="22.18" fill="#8f8fbf" stroke="#111" stroke-width="1.40"/>
<text x="1425.00" y="267.97" font-size="20.50">Low-grade glioma</text>
<rect x="1388.60" y="273.96" width="21.90" height="22.18" fill="#a340ff" stroke="#111" stroke-width="1.40"/>
<text x="1425.00" y="292.15" font-size="20.50">Medulloblastoma</text>
<rect x="1388.60" y="298.14" width="21.90" height="22.18" fill="#2db398" stroke="#111" stroke-width="1.40"/>
<text x="1425.00" y="316.33" font-size="20.50">Meningioma</text>
<rect x="1388.60" y="322.32" width="21.90" height="22.18" fill="#7fbf00" stroke="#111" stroke-width="1.40"/>
<text x="1425.00" y="340.51" font-size="20.50">Mesenchymal tumor</text>
<rect x="1388.60" y="346.50" width="21.90" height="22.18" fill="#685815" stroke="#111" stroke-width="1.40"/>
<text x="1425.00" y="364.69" font-size="20.50">Mixed neuronal-glial tumor</text>
<rect x="1388.60" y="370.68" width="21.90" height="22.18" fill="#e2ac39" stroke="#111" stroke-width="1.40"/>
<text x="1425.00" y="388.87" font-size="20.50">Neurofibroma plexiform</text>
<rect x="1388.60" y="394.86" width="21.90" height="22.18" fill="#fff5eb" stroke="#111" stroke-width="1.40"/>
<text x="1425.00" y="413.05" font-size="20.50">Non-neoplastic tumor</text>
<rect x="1388.60" y="419.04" width="21.90" height="22.18" fill="#ffccf5" stroke="#111" stroke-width="1.40"/>
<text x="1425.00" y="437.23" font-size="20.50">Other high-grade glioma</text>
<rect x="1388.60" y="443.22" width="21.90" height="22.18" fill="#b5b5b5" stroke="#111" stroke-width="1.40"/>
<text x="1425.00" y="461.41" font-size="20.50">Other tumor</text>
<rect x="1388.60" y="467.40" width="21.90" height="22.18" fill="#ab7200" stroke="#111" stroke-width="1.40"/>
<text x="1425.00" y="485.59" font-size="20.50">Schwannoma</text>
</g>
<!-- Panel B -->
<g id="panelB">
<text x="4.60" y="724.60" font-size="39.50" font-weight="bold">B</text>
<text x="390.20" y="725.80" font-size="38.60" font-weight="bold">CPGs</text>
<line x1="407.20" y1="750.40" x2="407.20" y2="1041.60" stroke="#eeeeee" stroke-width="3.00"/>
<line x1="521.58" y1="750.40" x2="521.58" y2="1041.60" stroke="#eeeeee" stroke-width="3.00"/>
<line x1="635.96" y1="750.40" x2="635.96" y2="1041.60" stroke="#eeeeee" stroke-width="3.00"/>
<line x1="750.34" y1="750.40" x2="750.34" y2="1041.60" stroke="#eeeeee" stroke-width="3.00"/>
<line x1="407.20" y1="791.90" x2="764.64" y2="791.90" stroke="#b3b3b3" stroke-width="1.90"/>
<line x1="407.20" y1="861.20" x2="501.56" y2="861.20" stroke="#b3b3b3" stroke-width="1.90"/>
<line x1="407.20" y1="930.60" x2="498.70" y2="930.60" stroke="#b3b3b3" stroke-width="1.90"/>
<line x1="407.20" y1="999.90" x2="427.22" y2="999.90" stroke="#b3b3b3" stroke-width="1.90"/>
<circle cx="764.64" cy="791.90" r="8.20" fill="#000"/>
<circle cx="501.56" cy="861.20" r="8.20" fill="#000"/>
<circle cx="498.70" cy="930.60" r="8.20" fill="#000"/>
<circle cx="427.22" cy="999.90" r="8.20" fill="#000"/>
<line x1="389.70" y1="750.40" x2="389.70" y2="1042.80" stroke="#000" stroke-width="3.00"/>
<line x1="388.50" y1="1041.60" x2="782.90" y2="1041.60" stroke="#000" stroke-width="3.00"/>
<line x1="381.70" y1="791.90" x2="389.70" y2="791.90" stroke="#000" stroke-width="3.00"/>
<text x="375.20" y="801.00" font-size="25.75" text-anchor="end">ClinVar - Pathogenic</text>
<line x1="381.70" y1="861.20" x2="389.70" y2="861.20" stroke="#000" stroke-width="3.00"/>
<text x="375.20" y="870.30" font-size="25.75" text-anchor="end">ClinVar - Likely Pathogenic</text>
<line x1="381.70" y1="930.60" x2="389.70" y2="930.60" stroke="#000" stroke-width="3.00"/>
<text x="375.20" y="939.70" font-size="25.75" text-anchor="end">InterVar - Likely Pathogenic</text>
<line x1="381.70" y1="999.90" x2="389.70" y2="999.90" stroke="#000" stroke-width="3.00"/>
<text x="375.20" y="1009.00" font-size="25.75" text-anchor="end">InterVar - Pathogenic</text>
<line x1="407.20" y1="1041.60" x2="407.20" y2="1049.60" stroke="#000" stroke-width="3.00"/>
<text x="407.20" y="1074.60" font-size="25.20" text-anchor="middle">0</text>
<line x1="521.58" y1="1041.60" x2="521.58" y2="1049.60" stroke="#000" stroke-width="3.00"/>
<text x="521.58" y="1074.60" font-size="25.20" text-anchor="middle">40</text>
<line x1="635.96" y1="1041.60" x2="635.96" y2="1049.60" stroke="#000" stroke-width="3.00"/>
<text x="635.96" y="1074.60" font-size="25.20" text-anchor="middle">80</text>
<line x1="750.34" y1="1041.60" x2="750.34" y2="1049.60" stroke="#000" stroke-width="3.00"/>
<text x="750.34" y="1074.60" font-size="25.20" text-anchor="middle">120</text>
<text x="586.30" y="1120.60" font-size="32.10" font-weight="bold" text-anchor="middle">Number of germline variants</text>
<text x="38.30" y="896.50" font-size="32.10" font-weight="bold" text-anchor="middle" transform="rotate(-90 38.30 896.50)">Final call</text>
</g>
<!-- Panel C -->
<g id="panelC">
<text x="935.20" y="730.40" font-size="39.50" font-weight="bold">C</text>
<line x1="1046.20" y1="1038.90" x2="1445.40" y2="1038.90" stroke="#f0f0f0" stroke-width="2.00"/>
<line x1="1046.20" y1="973.90" x2="1445.40" y2="973.90" stroke="#f0f0f0" stroke-width="2.00"/>
<line x1="1046.20" y1="908.90" x2="1445.40" y2="908.90" stroke="#f0f0f0" stroke-width="2.00"/>
<line x1="1046.20" y1="843.90" x2="1445.40" y2="843.90" stroke="#f0f0f0" stroke-width="2.00"/>
<line x1="1046.20" y1="778.90" x2="1445.40" y2="778.90" stroke="#f0f0f0" stroke-width="2.00"/>
<line x1="1046.20" y1="713.90" x2="1445.40" y2="713.90" stroke="#f0f0f0" stroke-width="2.00"/>
<line x1="1062.80" y1="698.30" x2="1062.80" y2="1054.70" stroke="#f0f0f0" stroke-width="2.00"/>
<line x1="1090.98" y1="698.30" x2="1090.98" y2="1054.70" stroke="#f0f0f0" stroke-width="2.00"/>
<line x1="1119.16" y1="698.30" x2="1119.16" y2="1054.70" stroke="#f0f0f0" stroke-width="2.00"/>
<line x1="1147.34" y1="698.30" x2="1147.34" y2="1054.70" stroke="#f0f0f0" stroke-width="2.00"/>
<line x1="1175.52" y1="698.30" x2="1175.52" y2="1054.70" stroke="#f0f0f0" stroke-width="2.00"/>
<line x1="1203.70" y1="698.30" x2="1203.70" y2="1054.70" stroke="#f0f0f0" stroke-width="2.00"/>
<line x1="1231.88" y1="698.30" x2="1231.88" y2="1054.70" stroke="#f0f0f0" stroke-width="2.00"/>
<line x1="1260.06" y1="698.30" x2="1260.06" y2="1054.70" stroke="#f0f0f0" stroke-width="2.00"/>
<line x1="1288.24" y1="698.30" x2="1288.24" y2="1054.70" stroke="#f0f0f0" stroke-width="2.00"/>
<line x1="1316.42" y1="698.30" x2="1316.42" y2="1054.70" stroke="#f0f0f0" stroke-width="2.00"/>
<line x1="1344.60" y1="698.30" x2="1344.60" y2="1054.70" stroke="#f0f0f0" stroke-width="2.00"/>
<line x1="1372.78" y1="698.30" x2="1372.78" y2="1054.70" stroke="#f0f0f0" stroke-width="2.00"/>
<line x1="1400.96" y1="698.30" x2="1400.96" y2="1054.70" stroke="#f0f0f0" stroke-width="2.00"/>
<line x1="1429.14" y1="698.30" x2="1429.14" y2="1054.70" stroke="#f0f0f0" stroke-width="2.00"/>
<rect x="1050.12" y="973.90" width="25.36" height="65.00" fill="#7fbf00"/>
<rect x="1050.12" y="973.90" width="25.36" height="65.00" fill="url(#hatchC)"/>
<rect x="1050.12" y="973.90" width="25.36" height="65.00" fill="none" stroke="#000" stroke-width="1.70"/>
<rect x="1050.12" y="843.90" width="25.36" height="130.00" fill="#8f8fbf"/>
<rect x="1050.12" y="843.90" width="25.36" height="130.00" fill="none" stroke="#000" stroke-width="1.70"/>
<rect x="1078.30" y="908.90" width="25.36" height="130.00" fill="#ffccf5"/>
<rect x="1078.30" y="908.90" width="25.36" height="130.00" fill="none" stroke="#000" stroke-width="1.70"/>
<rect x="1106.48" y="908.90" width="25.36" height="130.00" fill="#8f8fbf"/>
<rect x="1106.48" y="908.90" width="25.36" height="130.00" fill="none" stroke="#000" stroke-width="1.70"/>
<rect x="1134.66" y="973.90" width="25.36" height="65.00" fill="#8f8fbf"/>
<rect x="1134.66" y="973.90" width="25.36" height="65.00" fill="none" stroke="#000" stroke-width="1.70"/>
<rect x="1162.84" y="973.90" width="25.36" height="65.00" fill="#ffccf5"/>
<rect x="1162.84" y="973.90" width="25.36" height="65.00" fill="none" stroke="#000" stroke-width="1.70"/>
<rect x="1191.02" y="973.90" width="25.36" height="65.00" fill="#ff40d9"/>
<rect x="1191.02" y="973.90" width="25.36" height="65.00" fill="none" stroke="#000" stroke-width="1.70"/>
<rect x="1219.20" y="973.90" width="25.36" height="65.00" fill="#a340ff"/>
<rect x="1219.20" y="973.90" width="25.36" height="65.00" fill="none" stroke="#000" stroke-width="1.70"/>
<rect x="1247.38" y="973.90" width="25.36" height="65.00" fill="#2db398"/>
<rect x="1247.38" y="973.90" width="25.36" height="65.00" fill="none" stroke="#000" stroke-width="1.70"/>
<rect x="1275.56" y="973.90" width="25.36" height="65.00" fill="#ffccf5"/>
<rect x="1275.56" y="973.90" width="25.36" height="65.00" fill="none" stroke="#000" stroke-width="1.70"/>
<rect x="1303.74" y="973.90" width="25.36" height="65.00" fill="#8f8fbf"/>
<rect x="1303.74" y="973.90" width="25.36" height="65.00" fill="none" stroke="#000" stroke-width="1.70"/>
<rect x="1331.92" y="973.90" width="25.36" height="65.00" fill="#b2502d"/>
<rect x="1331.92" y="973.90" width="25.36" height="65.00" fill="none" stroke="#000" stroke-width="1.70"/>
<rect x="1360.10" y="973.90" width="25.36" height="65.00" fill="#a340ff"/>
<rect x="1360.10" y="973.90" width="25.36" height="65.00" fill="none" stroke="#000" stroke-width="1.70"/>
<rect x="1388.28" y="973.90" width="25.36" height="65.00" fill="#7fbf00"/>
<rect x="1388.28" y="973.90" width="25.36" height="65.00" fill="url(#hatchC)"/>
<rect x="1388.28" y="973.90" width="25.36" height="65.00" fill="none" stroke="#000" stroke-width="1.70"/>
<rect x="1416.46" y="973.90" width="25.36" height="65.00" fill="#8f8fbf"/>
<rect x="1416.46" y="973.90" width="25.36" height="65.00" fill="none" stroke="#000" stroke-width="1.70"/>
<line x1="1046.20" y1="698.30" x2="1046.20" y2="1055.70" stroke="#000" stroke-width="2.30"/>
<line x1="1045.20" y1="1054.70" x2="1445.40" y2="1054.70" stroke="#000" stroke-width="2.30"/>
<line x1="1040.20" y1="1038.90" x2="1046.20" y2="1038.90" stroke="#000" stroke-width="2.30"/>
<text x="1035.50" y="1045.40" font-size="18.00" text-anchor="end">0</text>
<line x1="1040.20" y1="973.90" x2="1046.20" y2="973.90" stroke="#000" stroke-width="2.30"/>
<text x="1035.50" y="980.40" font-size="18.00" text-anchor="end">1</text>
<line x1="1040.20" y1="908.90" x2="1046.20" y2="908.90" stroke="#000" stroke-width="2.30"/>
<text x="1035.50" y="915.40" font-size="18.00" text-anchor="end">2</text>
<line x1="1040.20" y1="843.90" x2="1046.20" y2="843.90" stroke="#000" stroke-width="2.30"/>
<text x="1035.50" y="850.40" font-size="18.00" text-anchor="end">3</text>
<line x1="1040.20" y1="778.90" x2="1046.20" y2="778.90" stroke="#000" stroke-width="2.30"/>
<text x="1035.50" y="785.40" font-size="18.00" text-anchor="end">4</text>
<line x1="1040.20" y1="713.90" x2="1046.20" y2="713.90" stroke="#000" stroke-width="2.30"/>
<text x="1035.50" y="720.40" font-size="18.00" text-anchor="end">5</text>
<line x1="1062.80" y1="1054.70" x2="1062.80" y2="1060.70" stroke="#000" stroke-width="2.30"/>
<text x="1069.70" y="1065.20" font-size="18.00" font-style="italic" text-anchor="end" transform="rotate(-90 1069.70 1065.20)">CHEK2</text>
<line x1="1090.98" y1="1054.70" x2="1090.98" y2="1060.70" stroke="#000" stroke-width="2.30"/>
<text x="1097.88" y="1065.20" font-size="18.00" font-style="italic" text-anchor="end" transform="rotate(-90 1097.88 1065.20)">MSH2</text>
<line x1="1119.16" y1="1054.70" x2="1119.16" y2="1060.70" stroke="#000" stroke-width="2.30"/>
<text x="1126.06" y="1065.20" font-size="18.00" font-style="italic" text-anchor="end" transform="rotate(-90 1126.06 1065.20)">NF1</text>
<line x1="1147.34" y1="1054.70" x2="1147.34" y2="1060.70" stroke="#000" stroke-width="2.30"/>
<text x="1154.24" y="1065.20" font-size="18.00" font-style="italic" text-anchor="end" transform="rotate(-90 1154.24 1065.20)">ATM</text>
<line x1="1175.52" y1="1054.70" x2="1175.52" y2="1060.70" stroke="#000" stroke-width="2.30"/>
<text x="1182.42" y="1065.20" font-size="18.00" font-style="italic" text-anchor="end" transform="rotate(-90 1182.42 1065.20)">HFE</text>
<line x1="1203.70" y1="1054.70" x2="1203.70" y2="1060.70" stroke="#000" stroke-width="2.30"/>
<text x="1210.60" y="1065.20" font-size="18.00" font-style="italic" text-anchor="end" transform="rotate(-90 1210.60 1065.20)">KIF1B</text>
<line x1="1231.88" y1="1054.70" x2="1231.88" y2="1060.70" stroke="#000" stroke-width="2.30"/>
<text x="1238.78" y="1065.20" font-size="18.00" font-style="italic" text-anchor="end" transform="rotate(-90 1238.78 1065.20)">MSH3</text>
<line x1="1260.06" y1="1054.70" x2="1260.06" y2="1060.70" stroke="#000" stroke-width="2.30"/>
<text x="1266.96" y="1065.20" font-size="18.00" font-style="italic" text-anchor="end" transform="rotate(-90 1266.96 1065.20)">NF2</text>
<line x1="1288.24" y1="1054.70" x2="1288.24" y2="1060.70" stroke="#000" stroke-width="2.30"/>
<text x="1295.14" y="1065.20" font-size="18.00" font-style="italic" text-anchor="end" transform="rotate(-90 1295.14 1065.20)">PMS2</text>
<line x1="1316.42" y1="1054.70" x2="1316.42" y2="1060.70" stroke="#000" stroke-width="2.30"/>
<text x="1323.32" y="1065.20" font-size="18.00" font-style="italic" text-anchor="end" transform="rotate(-90 1323.32 1065.20)">SLC25A13</text>
<line x1="1344.60" y1="1054.70" x2="1344.60" y2="1060.70" stroke="#000" stroke-width="2.30"/>
<text x="1351.50" y="1065.20" font-size="18.00" font-style="italic" text-anchor="end" transform="rotate(-90 1351.50 1065.20)">STAT3</text>
<line x1="1372.78" y1="1054.70" x2="1372.78" y2="1060.70" stroke="#000" stroke-width="2.30"/>
<text x="1379.68" y="1065.20" font-size="18.00" font-style="italic" text-anchor="end" transform="rotate(-90 1379.68 1065.20)">SUFU</text>
<line x1="1400.96" y1="1054.70" x2="1400.96" y2="1060.70" stroke="#000" stroke-width="2.30"/>
<text x="1407.86" y="1065.20" font-size="18.00" font-style="italic" text-anchor="end" transform="rotate(-90 1407.86 1065.20)">TP53</text>
<line x1="1429.14" y1="1054.70" x2="1429.14" y2="1060.70" stroke="#000" stroke-width="2.30"/>
<text x="1436.04" y="1065.20" font-size="18.00" font-style="italic" text-anchor="end" transform="rotate(-90 1436.04 1065.20)">XPC</text>
<text x="1009.00" y="877.30" font-size="22.60" font-weight="bold" text-anchor="middle" transform="rotate(-90 1009.00 877.30)">Number of patients with P/LP SV</text>
<text x="1480.50" y="743.10" font-size="22.40" font-weight="bold">SV Type</text>
<rect x="1480.50" y="757.30" width="21.50" height="21.30" fill="#fff" stroke="#555" stroke-width="0.80"/>
<text x="1513.20" y="774.40" font-size="18.10">DEL</text>
<rect x="1480.50" y="778.60" width="21.50" height="21.50" fill="#fff"/>
<rect x="1480.50" y="778.60" width="21.50" height="21.50" fill="url(#hatchL)" stroke="#555" stroke-width="0.80"/>
<text x="1513.20" y="795.90" font-size="18.10">DUP</text>
<text x="1480.50" y="864.30" font-size="22.70" font-weight="bold">Tumor diagnosis</text>
<rect x="1480.50" y="878.60" width="21.50" height="21.50" fill="#b2502d" stroke="#555" stroke-width="0.80"/>
<text x="1513.20" y="895.80" font-size="18.10">Craniopharyngioma</text>
<rect x="1480.50" y="900.10" width="21.50" height="21.50" fill="#ff40d9" stroke="#555" stroke-width="0.80"/>
<text x="1513.20" y="917.30" font-size="18.10">DIPG or DMG</text>
<rect x="1480.50" y="921.60" width="21.50" height="21.50" fill="#8f8fbf" stroke="#555" stroke-width="0.80"/>
<text x="1513.20" y="938.80" font-size="18.10">Low-grade glioma</text>
<rect x="1480.50" y="943.10" width="21.50" height="21.50" fill="#a340ff" stroke="#555" stroke-width="0.80"/>
<text x="1513.20" y="960.30" font-size="18.10">Medulloblastoma</text>
<rect x="1480.50" y="964.60" width="21.50" height="21.50" fill="#2db398" stroke="#555" stroke-width="0.80"/>
<text x="1513.20" y="981.80" font-size="18.10">Meningioma</text>
<rect x="1480.50" y="986.10" width="21.50" height="21.50" fill="#7fbf00" stroke="#555" stroke-width="0.80"/>
<text x="1513.20" y="1003.30" font-size="18.10">Mesenchymal tumor</text>
<rect x="1480.50" y="1007.60" width="21.50" height="21.50" fill="#ffccf5" stroke="#555" stroke-width="0.80"/>
<text x="1513.20" y="1024.80" font-size="18.10">Other high-grade glioma</text>
</g>
<!-- Panel D -->
<g id="panelD" class="rt">
<text x="5.20" y="1236.20" font-size="39.50" font-weight="bold">D</text>
<text x="339.30" y="1201.60" font-size="21.30" font-weight="bold">Predisposition clinically–reported</text>
<rect x="339.30" y="1215.70" width="18.60" height="18.20" fill="#e64b35" stroke="#000" stroke-width="1.75"/>
<text x="370.20" y="1231.30" font-size="16.60">Yes</text>
<rect x="408.20" y="1215.70" width="18.60" height="18.20" fill="#4dbbd5" stroke="#000" stroke-width="1.75"/>
<text x="438.70" y="1231.30" font-size="16.60">No</text>
<line x1="349.00" y1="1277.00" x2="672.40" y2="1277.00" stroke="#f0f0f0" stroke-width="2.00"/>
<line x1="349.00" y1="1293.99" x2="672.40" y2="1293.99" stroke="#f0f0f0" stroke-width="2.00"/>
<line x1="349.00" y1="1310.98" x2="672.40" y2="1310.98" stroke="#f0f0f0" stroke-width="2.00"/>
<line x1="349.00" y1="1327.97" x2="672.40" y2="1327.97" stroke="#f0f0f0" stroke-width="2.00"/>
<line x1="349.00" y1="1344.96" x2="672.40" y2="1344.96" stroke="#f0f0f0" stroke-width="2.00"/>
<line x1="349.00" y1="1361.95" x2="672.40" y2="1361.95" stroke="#f0f0f0" stroke-width="2.00"/>
<line x1="349.00" y1="1378.94" x2="672.40" y2="1378.94" stroke="#f0f0f0" stroke-width="2.00"/>
<line x1="349.00" y1="1395.93" x2="672.40" y2="1395.93" stroke="#f0f0f0" stroke-width="2.00"/>
<line x1="349.00" y1="1412.92" x2="672.40" y2="1412.92" stroke="#f0f0f0" stroke-width="2.00"/>
<line x1="349.00" y1="1429.91" x2="672.40" y2="1429.91" stroke="#f0f0f0" stroke-width="2.00"/>
<line x1="349.00" y1="1446.90" x2="672.40" y2="1446.90" stroke="#f0f0f0" stroke-width="2.00"/>
<line x1="349.00" y1="1463.89" x2="672.40" y2="1463.89" stroke="#f0f0f0" stroke-width="2.00"/>
<line x1="349.00" y1="1480.88" x2="672.40" y2="1480.88" stroke="#f0f0f0" stroke-width="2.00"/>
<line x1="349.00" y1="1497.87" x2="672.40" y2="1497.87" stroke="#f0f0f0" stroke-width="2.00"/>
<line x1="349.00" y1="1514.86" x2="672.40" y2="1514.86" stroke="#f0f0f0" stroke-width="2.00"/>
<line x1="349.00" y1="1531.85" x2="672.40" y2="1531.85" stroke="#f0f0f0" stroke-width="2.00"/>
<line x1="349.00" y1="1548.84" x2="672.40" y2="1548.84" stroke="#f0f0f0" stroke-width="2.00"/>
<line x1="349.00" y1="1565.83" x2="672.40" y2="1565.83" stroke="#f0f0f0" stroke-width="2.00"/>
<line x1="349.00" y1="1582.82" x2="672.40" y2="1582.82" stroke="#f0f0f0" stroke-width="2.00"/>
<line x1="349.00" y1="1599.81" x2="672.40" y2="1599.81" stroke="#f0f0f0" stroke-width="2.00"/>
<line x1="349.00" y1="1616.80" x2="672.40" y2="1616.80" stroke="#f0f0f0" stroke-width="2.00"/>
<line x1="349.00" y1="1633.79" x2="672.40" y2="1633.79" stroke="#f0f0f0" stroke-width="2.00"/>
<line x1="349.00" y1="1650.78" x2="672.40" y2="1650.78" stroke="#f0f0f0" stroke-width="2.00"/>
<line x1="349.00" y1="1667.77" x2="672.40" y2="1667.77" stroke="#f0f0f0" stroke-width="2.00"/>
<line x1="349.00" y1="1684.76" x2="672.40" y2="1684.76" stroke="#f0f0f0" stroke-width="2.00"/>
<line x1="349.00" y1="1701.75" x2="672.40" y2="1701.75" stroke="#f0f0f0" stroke-width="2.00"/>
<line x1="349.00" y1="1718.74" x2="672.40" y2="1718.74" stroke="#f0f0f0" stroke-width="2.00"/>
<line x1="363.50" y1="1266.80" x2="363.50" y2="1728.90" stroke="#f0f0f0" stroke-width="2.00"/>
<line x1="422.32" y1="1266.80" x2="422.32" y2="1728.90" stroke="#f0f0f0" stroke-width="2.00"/>
<line x1="481.15" y1="1266.80" x2="481.15" y2="1728.90" stroke="#f0f0f0" stroke-width="2.00"/>
<line x1="539.98" y1="1266.80" x2="539.98" y2="1728.90" stroke="#f0f0f0" stroke-width="2.00"/>
<line x1="598.80" y1="1266.80" x2="598.80" y2="1728.90" stroke="#f0f0f0" stroke-width="2.00"/>
<line x1="657.62" y1="1266.80" x2="657.62" y2="1728.90" stroke="#f0f0f0" stroke-width="2.00"/>
<rect x="363.50" y="1269.35" width="258.83" height="15.29" fill="#e64b35" stroke="#000" stroke-width="1.75"/>
<rect x="363.50" y="1286.34" width="23.53" height="15.29" fill="#4dbbd5" stroke="#000" stroke-width="1.75"/>
<rect x="387.03" y="1286.34" width="94.12" height="15.29" fill="#e64b35" stroke="#000" stroke-width="1.75"/>
<rect x="363.50" y="1303.33" width="94.12" height="15.29" fill="#e64b35" stroke="#000" stroke-width="1.75"/>
<rect x="363.50" y="1320.32" width="94.12" height="15.29" fill="#4dbbd5" stroke="#000" stroke-width="1.75"/>
<rect x="363.50" y="1337.31" width="58.83" height="15.29" fill="#4dbbd5" stroke="#000" stroke-width="1.75"/>
<rect x="422.32" y="1337.31" width="11.77" height="15.29" fill="#e64b35" stroke="#000" stroke-width="1.75"/>
<rect x="363.50" y="1354.30" width="58.83" height="15.29" fill="#4dbbd5" stroke="#000" stroke-width="1.75"/>
<rect x="422.32" y="1354.30" width="11.77" height="15.29" fill="#e64b35" stroke="#000" stroke-width="1.75"/>
<rect x="363.50" y="1371.29" width="11.77" height="15.29" fill="#4dbbd5" stroke="#000" stroke-width="1.75"/>
<rect x="375.26" y="1371.29" width="47.06" height="15.29" fill="#e64b35" stroke="#000" stroke-width="1.75"/>
<rect x="363.50" y="1388.28" width="58.83" height="15.29" fill="#e64b35" stroke="#000" stroke-width="1.75"/>
<rect x="363.50" y="1405.27" width="23.53" height="15.29" fill="#4dbbd5" stroke="#000" stroke-width="1.75"/>
<rect x="387.03" y="1405.27" width="11.77" height="15.29" fill="#e64b35" stroke="#000" stroke-width="1.75"/>
<rect x="363.50" y="1422.26" width="23.53" height="15.29" fill="#4dbbd5" stroke="#000" stroke-width="1.75"/>
<rect x="387.03" y="1422.26" width="11.77" height="15.29" fill="#e64b35" stroke="#000" stroke-width="1.75"/>
<rect x="363.50" y="1439.25" width="23.53" height="15.29" fill="#4dbbd5" stroke="#000" stroke-width="1.75"/>
<rect x="387.03" y="1439.25" width="11.77" height="15.29" fill="#e64b35" stroke="#000" stroke-width="1.75"/>
<rect x="363.50" y="1456.24" width="35.30" height="15.29" fill="#4dbbd5" stroke="#000" stroke-width="1.75"/>
<rect x="363.50" y="1473.23" width="35.30" height="15.29" fill="#4dbbd5" stroke="#000" stroke-width="1.75"/>
<rect x="363.50" y="1490.22" width="35.30" height="15.29" fill="#4dbbd5" stroke="#000" stroke-width="1.75"/>
<rect x="363.50" y="1507.21" width="11.77" height="15.29" fill="#4dbbd5" stroke="#000" stroke-width="1.75"/>
<rect x="375.26" y="1507.21" width="11.77" height="15.29" fill="#e64b35" stroke="#000" stroke-width="1.75"/>
<rect x="363.50" y="1524.20" width="11.77" height="15.29" fill="#4dbbd5" stroke="#000" stroke-width="1.75"/>
<rect x="375.26" y="1524.20" width="11.77" height="15.29" fill="#e64b35" stroke="#000" stroke-width="1.75"/>
<rect x="363.50" y="1541.19" width="23.53" height="15.29" fill="#4dbbd5" stroke="#000" stroke-width="1.75"/>
<rect x="363.50" y="1558.18" width="11.77" height="15.29" fill="#e64b35" stroke="#000" stroke-width="1.75"/>
<rect x="363.50" y="1575.17" width="11.77" height="15.29" fill="#4dbbd5" stroke="#000" stroke-width="1.75"/>
<rect x="363.50" y="1592.16" width="11.77" height="15.29" fill="#4dbbd5" stroke="#000" stroke-width="1.75"/>
<rect x="363.50" y="1609.15" width="11.77" height="15.29" fill="#4dbbd5" stroke="#000" stroke-width="1.75"/>
<rect x="363.50" y="1626.14" width="11.77" height="15.29" fill="#4dbbd5" stroke="#000" stroke-width="1.75"/>
<rect x="363.50" y="1643.13" width="11.77" height="15.29" fill="#4dbbd5" stroke="#000" stroke-width="1.75"/>
<rect x="363.50" y="1660.12" width="11.77" height="15.29" fill="#4dbbd5" stroke="#000" stroke-width="1.75"/>
<rect x="363.50" y="1677.11" width="11.77" height="15.29" fill="#4dbbd5" stroke="#000" stroke-width="1.75"/>
<rect x="363.50" y="1694.10" width="11.77" height="15.29" fill="#4dbbd5" stroke="#000" stroke-width="1.75"/>
<rect x="363.50" y="1711.09" width="11.77" height="15.29" fill="#4dbbd5" stroke="#000" stroke-width="1.75"/>
<line x1="349.00" y1="1266.80" x2="349.00" y2="1729.80" stroke="#000" stroke-width="2.20"/>
<line x1="348.10" y1="1728.90" x2="672.40" y2="1728.90" stroke="#000" stroke-width="2.20"/>
<line x1="343.20" y1="1277.00" x2="349.00" y2="1277.00" stroke="#000" stroke-width="2.20"/>
<text x="339.00" y="1281.70" font-size="16.90" text-anchor="end"><tspan font-style="italic">NF1</tspan> (NF–1)</text>
<line x1="343.20" y1="1293.99" x2="349.00" y2="1293.99" stroke="#000" stroke-width="2.20"/>
<text x="339.00" y="1298.69" font-size="16.90" text-anchor="end"><tspan font-style="italic">TP53</tspan> (Li–Fraumeni syndrome)</text>
<line x1="343.20" y1="1310.98" x2="349.00" y2="1310.98" stroke="#000" stroke-width="2.20"/>
<text x="339.00" y="1315.68" font-size="16.90" text-anchor="end"><tspan font-style="italic">TSC2</tspan> (Tuberous Sclerosis)</text>
<line x1="343.20" y1="1327.97" x2="349.00" y2="1327.97" stroke="#000" stroke-width="2.20"/>
<text x="339.00" y="1332.67" font-size="16.90" text-anchor="end"><tspan font-style="italic">CHEK2</tspan> (CHEK2)</text>
<line x1="343.20" y1="1344.96" x2="349.00" y2="1344.96" stroke="#000" stroke-width="2.20"/>
<text x="339.00" y="1349.66" font-size="16.90" text-anchor="end"><tspan font-style="italic">PMS2</tspan> (LS or CMMRD)</text>
<line x1="343.20" y1="1361.95" x2="349.00" y2="1361.95" stroke="#000" stroke-width="2.20"/>
<text x="339.00" y="1366.65" font-size="16.90" text-anchor="end"><tspan font-style="italic">APC</tspan> (FAP)</text>
<line x1="343.20" y1="1378.94" x2="349.00" y2="1378.94" stroke="#000" stroke-width="2.20"/>
<text x="339.00" y="1383.64" font-size="16.90" text-anchor="end"><tspan font-style="italic">TSC1</tspan> (Tuberous Sclerosis)</text>
<line x1="343.20" y1="1395.93" x2="349.00" y2="1395.93" stroke="#000" stroke-width="2.20"/>
<text x="339.00" y="1400.63" font-size="16.90" text-anchor="end"><tspan font-style="italic">NF2</tspan> (NF–2)</text>
<line x1="343.20" y1="1412.92" x2="349.00" y2="1412.92" stroke="#000" stroke-width="2.20"/>
<text x="339.00" y="1417.62" font-size="16.90" text-anchor="end"><tspan font-style="italic">SUFU</tspan> (Gorlin syndrome)</text>
<line x1="343.20" y1="1429.91" x2="349.00" y2="1429.91" stroke="#000" stroke-width="2.20"/>
<text x="339.00" y="1434.61" font-size="16.90" text-anchor="end"><tspan font-style="italic">PTCH1</tspan> (Gorlin syndrome)</text>
<line x1="343.20" y1="1446.90" x2="349.00" y2="1446.90" stroke="#000" stroke-width="2.20"/>
<text x="339.00" y="1451.60" font-size="16.90" text-anchor="end"><tspan font-style="italic">MSH2</tspan> (LS or CMMRD)</text>
<line x1="343.20" y1="1463.89" x2="349.00" y2="1463.89" stroke="#000" stroke-width="2.20"/>
<text x="339.00" y="1468.59" font-size="16.90" text-anchor="end"><tspan font-style="italic">LZTR1</tspan> (Schwannomatosis)</text>
<line x1="343.20" y1="1480.88" x2="349.00" y2="1480.88" stroke="#000" stroke-width="2.20"/>
<text x="339.00" y="1485.58" font-size="16.90" text-anchor="end"><tspan font-style="italic">BRCA2</tspan> (BRCA1/2)</text>
<line x1="343.20" y1="1497.87" x2="349.00" y2="1497.87" stroke="#000" stroke-width="2.20"/>
<text x="339.00" y="1502.57" font-size="16.90" text-anchor="end"><tspan font-style="italic">BRCA1</tspan> (BRCA1/2)</text>
<line x1="343.20" y1="1514.86" x2="349.00" y2="1514.86" stroke="#000" stroke-width="2.20"/>
<text x="339.00" y="1519.56" font-size="16.90" text-anchor="end"><tspan font-style="italic">SMARCB1</tspan> (RTPS)</text>
<line x1="343.20" y1="1531.85" x2="349.00" y2="1531.85" stroke="#000" stroke-width="2.20"/>
<text x="339.00" y="1536.55" font-size="16.90" text-anchor="end"><tspan font-style="italic">MSH6</tspan> (LS or CMMRD)</text>
<line x1="343.20" y1="1548.84" x2="349.00" y2="1548.84" stroke="#000" stroke-width="2.20"/>
<text x="339.00" y="1553.54" font-size="16.90" text-anchor="end"><tspan font-style="italic">CDKN2A</tspan> (MAS)</text>
<line x1="343.20" y1="1565.83" x2="349.00" y2="1565.83" stroke="#000" stroke-width="2.20"/>
<text x="339.00" y="1570.53" font-size="16.90" text-anchor="end"><tspan font-style="italic">VHL</tspan> (Von Hippel–Lindau)</text>
<line x1="343.20" y1="1582.82" x2="349.00" y2="1582.82" stroke="#000" stroke-width="2.20"/>
<text x="339.00" y="1587.52" font-size="16.90" text-anchor="end"><tspan font-style="italic">SOS1</tspan> (Noonan syndrome)</text>
<line x1="343.20" y1="1599.81" x2="349.00" y2="1599.81" stroke="#000" stroke-width="2.20"/>
<text x="339.00" y="1604.51" font-size="16.90" text-anchor="end"><tspan font-style="italic">PTPN11</tspan> (Noonan syndrome)</text>
<line x1="343.20" y1="1616.80" x2="349.00" y2="1616.80" stroke="#000" stroke-width="2.20"/>
<text x="339.00" y="1621.50" font-size="16.90" text-anchor="end"><tspan font-style="italic">PTEN</tspan> (Cowden syndrome)</text>
<line x1="343.20" y1="1633.79" x2="349.00" y2="1633.79" stroke="#000" stroke-width="2.20"/>
<text x="339.00" y="1638.49" font-size="16.90" text-anchor="end"><tspan font-style="italic">PTCH2</tspan> (Gorlin syndrome)</text>
<line x1="343.20" y1="1650.78" x2="349.00" y2="1650.78" stroke="#000" stroke-width="2.20"/>
<text x="339.00" y="1655.48" font-size="16.90" text-anchor="end"><tspan font-style="italic">NTHL1</tspan> (FAP)</text>
<line x1="343.20" y1="1667.77" x2="349.00" y2="1667.77" stroke="#000" stroke-width="2.20"/>
<text x="339.00" y="1672.47" font-size="16.90" text-anchor="end"><tspan font-style="italic">GPR161</tspan> (Gorlin–like syndrome)</text>
<line x1="343.20" y1="1684.76" x2="349.00" y2="1684.76" stroke="#000" stroke-width="2.20"/>
<text x="339.00" y="1689.46" font-size="16.90" text-anchor="end"><tspan font-style="italic">ELP1</tspan> (ELP1 MB syndrome)</text>
<line x1="343.20" y1="1701.75" x2="349.00" y2="1701.75" stroke="#000" stroke-width="2.20"/>
<text x="339.00" y="1706.45" font-size="16.90" text-anchor="end"><tspan font-style="italic">DROSHA</tspan> (DROSHA tumor predisposition)</text>
<line x1="343.20" y1="1718.74" x2="349.00" y2="1718.74" stroke="#000" stroke-width="2.20"/>
<text x="339.00" y="1723.44" font-size="16.90" text-anchor="end"><tspan font-style="italic">BAP1</tspan> (BAP1–TPS)</text>
<line x1="363.50" y1="1728.90" x2="363.50" y2="1734.70" stroke="#000" stroke-width="2.20"/>
<text x="363.50" y="1751.20" font-size="16.90" text-anchor="middle">0</text>
<line x1="422.32" y1="1728.90" x2="422.32" y2="1734.70" stroke="#000" stroke-width="2.20"/>
<text x="422.32" y="1751.20" font-size="16.90" text-anchor="middle">5</text>
<line x1="481.15" y1="1728.90" x2="481.15" y2="1734.70" stroke="#000" stroke-width="2.20"/>
<text x="481.15" y="1751.20" font-size="16.90" text-anchor="middle">10</text>
<line x1="539.98" y1="1728.90" x2="539.98" y2="1734.70" stroke="#000" stroke-width="2.20"/>
<text x="539.98" y="1751.20" font-size="16.90" text-anchor="middle">15</text>
<line x1="598.80" y1="1728.90" x2="598.80" y2="1734.70" stroke="#000" stroke-width="2.20"/>
<text x="598.80" y="1751.20" font-size="16.90" text-anchor="middle">20</text>
<line x1="657.62" y1="1728.90" x2="657.62" y2="1734.70" stroke="#000" stroke-width="2.20"/>
<text x="657.62" y="1751.20" font-size="16.90" text-anchor="middle">25</text>
<text x="510.50" y="1781.50" font-size="21.20" font-weight="bold" text-anchor="middle">No. patients</text>
</g>
<!-- Panel E -->
<g id="panelE">
<text x="827.40" y="1236.30" font-size="39.50" font-weight="bold">E</text>
<line x1="1192.40" y1="1231.90" x2="1644.90" y2="1231.90" stroke="#f0f0f0" stroke-width="1.90"/>
<line x1="1192.40" y1="1261.74" x2="1644.90" y2="1261.74" stroke="#f0f0f0" stroke-width="1.90"/>
<line x1="1192.40" y1="1291.58" x2="1644.90" y2="1291.58" stroke="#f0f0f0" stroke-width="1.90"/>
<line x1="1192.40" y1="1321.42" x2="1644.90" y2="1321.42" stroke="#f0f0f0" stroke-width="1.90"/>
<line x1="1192.40" y1="1351.26" x2="1644.90" y2="1351.26" stroke="#f0f0f0" stroke-width="1.90"/>
<line x1="1192.40" y1="1381.10" x2="1644.90" y2="1381.10" stroke="#f0f0f0" stroke-width="1.90"/>
<line x1="1192.40" y1="1410.94" x2="1644.90" y2="1410.94" stroke="#f0f0f0" stroke-width="1.90"/>
<line x1="1192.40" y1="1440.78" x2="1644.90" y2="1440.78" stroke="#f0f0f0" stroke-width="1.90"/>
<line x1="1192.40" y1="1470.62" x2="1644.90" y2="1470.62" stroke="#f0f0f0" stroke-width="1.90"/>
<line x1="1192.40" y1="1500.46" x2="1644.90" y2="1500.46" stroke="#f0f0f0" stroke-width="1.90"/>
<line x1="1192.40" y1="1530.30" x2="1644.90" y2="1530.30" stroke="#f0f0f0" stroke-width="1.90"/>
<line x1="1192.40" y1="1560.14" x2="1644.90" y2="1560.14" stroke="#f0f0f0" stroke-width="1.90"/>
<line x1="1192.40" y1="1589.98" x2="1644.90" y2="1589.98" stroke="#f0f0f0" stroke-width="1.90"/>
<line x1="1192.40" y1="1619.82" x2="1644.90" y2="1619.82" stroke="#f0f0f0" stroke-width="1.90"/>
<line x1="1192.40" y1="1649.66" x2="1644.90" y2="1649.66" stroke="#f0f0f0" stroke-width="1.90"/>
<line x1="1192.40" y1="1679.50" x2="1644.90" y2="1679.50" stroke="#f0f0f0" stroke-width="1.90"/>
<line x1="1192.40" y1="1709.34" x2="1644.90" y2="1709.34" stroke="#f0f0f0" stroke-width="1.90"/>
<line x1="1212.80" y1="1214.20" x2="1212.80" y2="1726.50" stroke="#f0f0f0" stroke-width="1.90"/>
<line x1="1324.86" y1="1214.20" x2="1324.86" y2="1726.50" stroke="#f0f0f0" stroke-width="1.90"/>
<line x1="1436.92" y1="1214.20" x2="1436.92" y2="1726.50" stroke="#f0f0f0" stroke-width="1.90"/>
<line x1="1548.98" y1="1214.20" x2="1548.98" y2="1726.50" stroke="#f0f0f0" stroke-width="1.90"/>
<rect x="1212.80" y="1218.47" width="410.89" height="26.86" fill="#e2ac39" stroke="#000" stroke-width="1.30"/>
<rect x="1212.80" y="1248.31" width="191.68" height="26.86" fill="#ffccf5" stroke="#000" stroke-width="1.30"/>
<rect x="1212.80" y="1278.15" width="179.30" height="26.86" fill="#2db398" stroke="#000" stroke-width="1.30"/>
<rect x="1212.80" y="1307.99" width="172.40" height="26.86" fill="#0074d9" stroke="#000" stroke-width="1.30"/>
<rect x="1212.80" y="1337.83" width="166.01" height="26.86" fill="#4d0d85" stroke="#000" stroke-width="1.30"/>
<rect x="1212.80" y="1367.67" width="160.09" height="26.86" fill="#fff5eb" stroke="#000" stroke-width="1.30"/>
<rect x="1212.80" y="1397.51" width="157.58" height="26.86" fill="#a340ff" stroke="#000" stroke-width="1.30"/>
<rect x="1212.80" y="1427.35" width="147.45" height="26.86" fill="#7fbf00" stroke="#000" stroke-width="1.30"/>
<rect x="1212.80" y="1457.19" width="134.47" height="26.86" fill="#b5b5b5" stroke="#000" stroke-width="1.30"/>
<rect x="1212.80" y="1487.03" width="129.30" height="26.86" fill="#ab7200" stroke="#000" stroke-width="1.30"/>
<rect x="1212.80" y="1516.87" width="124.51" height="26.86" fill="#00441b" stroke="#000" stroke-width="1.30"/>
<rect x="1212.80" y="1546.71" width="114.09" height="26.86" fill="#8f8fbf" stroke="#000" stroke-width="1.30"/>
<rect x="1212.80" y="1576.55" width="86.81" height="26.86" fill="#2200ff" stroke="#000" stroke-width="1.30"/>
<rect x="1212.80" y="1606.39" width="78.02" height="26.86" fill="#685815" stroke="#000" stroke-width="1.30"/>
<rect x="1212.80" y="1636.23" width="63.43" height="26.86" fill="#ff40d9" stroke="#000" stroke-width="1.30"/>
<rect x="1212.80" y="1666.07" width="57.47" height="26.86" fill="#b2502d" stroke="#000" stroke-width="1.30"/>
<line x1="1212.80" y1="1695.31" x2="1212.80" y2="1723.37" stroke="#000" stroke-width="1.30"/>
<line x1="1192.40" y1="1214.20" x2="1192.40" y2="1727.40" stroke="#000" stroke-width="1.90"/>
<line x1="1191.50" y1="1726.50" x2="1644.90" y2="1726.50" stroke="#000" stroke-width="1.90"/>
<line x1="1186.80" y1="1231.90" x2="1192.40" y2="1231.90" stroke="#000" stroke-width="1.90"/>
<text x="1181.60" y="1238.10" font-size="17.45" text-anchor="end">Neurofibroma plexiform (n = 11/15)</text>
<line x1="1186.80" y1="1261.74" x2="1192.40" y2="1261.74" stroke="#000" stroke-width="1.90"/>
<text x="1181.60" y="1267.94" font-size="17.45" text-anchor="end">Other high-grade glioma (n = 26/76)</text>
<line x1="1186.80" y1="1291.58" x2="1192.40" y2="1291.58" stroke="#000" stroke-width="1.90"/>
<text x="1181.60" y="1297.78" font-size="17.45" text-anchor="end">Meningioma (n = 8/25)</text>
<line x1="1186.80" y1="1321.42" x2="1192.40" y2="1321.42" stroke="#000" stroke-width="1.90"/>
<text x="1181.60" y="1327.62" font-size="17.45" text-anchor="end">Germ cell tumor (n = 4/13)</text>
<line x1="1186.80" y1="1351.26" x2="1192.40" y2="1351.26" stroke="#000" stroke-width="1.90"/>
<text x="1181.60" y="1357.46" font-size="17.45" text-anchor="end">Atypical Teratoid Rhabdoid Tumor (n = 8/27)</text>
<line x1="1186.80" y1="1381.10" x2="1192.40" y2="1381.10" stroke="#000" stroke-width="1.90"/>
<text x="1181.60" y="1387.30" font-size="17.45" text-anchor="end">Non-neoplastic tumor (n = 8/28)</text>
<line x1="1186.80" y1="1410.94" x2="1192.40" y2="1410.94" stroke="#000" stroke-width="1.90"/>
<text x="1181.60" y="1417.14" font-size="17.45" text-anchor="end">Medulloblastoma (n = 27/96)</text>
<line x1="1186.80" y1="1440.78" x2="1192.40" y2="1440.78" stroke="#000" stroke-width="1.90"/>
<text x="1181.60" y="1446.98" font-size="17.45" text-anchor="end">Mesenchymal tumor (n = 5/19)</text>
<line x1="1186.80" y1="1470.62" x2="1192.40" y2="1470.62" stroke="#000" stroke-width="1.90"/>
<text x="1181.60" y="1476.82" font-size="17.45" text-anchor="end">Other tumor (n = 6/25)</text>
<line x1="1186.80" y1="1500.46" x2="1192.40" y2="1500.46" stroke="#000" stroke-width="1.90"/>
<text x="1181.60" y="1506.66" font-size="17.45" text-anchor="end">Schwannoma (n = 3/13)</text>
<line x1="1186.80" y1="1530.30" x2="1192.40" y2="1530.30" stroke="#000" stroke-width="1.90"/>
<text x="1181.60" y="1536.50" font-size="17.45" text-anchor="end">Choroid plexus tumor (n = 4/18)</text>
<line x1="1186.80" y1="1560.14" x2="1192.40" y2="1560.14" stroke="#000" stroke-width="1.90"/>
<text x="1181.60" y="1566.34" font-size="17.45" text-anchor="end">Low-grade glioma (n = 45/221)</text>
<line x1="1186.80" y1="1589.98" x2="1192.40" y2="1589.98" stroke="#000" stroke-width="1.90"/>
<text x="1181.60" y="1596.18" font-size="17.45" text-anchor="end">Ependymoma (n = 11/71)</text>
<line x1="1186.80" y1="1619.82" x2="1192.40" y2="1619.82" stroke="#000" stroke-width="1.90"/>
<text x="1181.60" y="1626.02" font-size="17.45" text-anchor="end">Mixed neuronal-glial tumor (n = 11/79)</text>
<line x1="1186.80" y1="1649.66" x2="1192.40" y2="1649.66" stroke="#000" stroke-width="1.90"/>
<text x="1181.60" y="1655.86" font-size="17.45" text-anchor="end">DIPG or DMG (n = 6/53)</text>
<line x1="1186.80" y1="1679.50" x2="1192.40" y2="1679.50" stroke="#000" stroke-width="1.90"/>
<text x="1181.60" y="1685.70" font-size="17.45" text-anchor="end">Craniopharyngioma (n = 4/39)</text>
<line x1="1186.80" y1="1709.34" x2="1192.40" y2="1709.34" stroke="#000" stroke-width="1.90"/>
<text x="1181.60" y="1715.54" font-size="17.45" text-anchor="end">Other CNS embryonal tumor (n = 0/12)</text>
<line x1="1212.80" y1="1726.50" x2="1212.80" y2="1732.10" stroke="#000" stroke-width="1.90"/>
<text x="1212.80" y="1749.50" font-size="17.45" text-anchor="middle">0</text>
<line x1="1324.86" y1="1726.50" x2="1324.86" y2="1732.10" stroke="#000" stroke-width="1.90"/>
<text x="1324.86" y="1749.50" font-size="17.45" text-anchor="middle">20</text>
<line x1="1436.92" y1="1726.50" x2="1436.92" y2="1732.10" stroke="#000" stroke-width="1.90"/>
<text x="1436.92" y="1749.50" font-size="17.45" text-anchor="middle">40</text>
<line x1="1548.98" y1="1726.50" x2="1548.98" y2="1732.10" stroke="#000" stroke-width="1.90"/>
<text x="1548.98" y="1749.50" font-size="17.45" text-anchor="middle">60</text>
<text x="1418.65" y="1781.10" font-size="21.75" font-weight="bold" text-anchor="middle">% Patients with germline CPG P/LP variant</text>
</g>
<!-- Panel F -->
<g id="panelF" class="rt">
<text x="7.00" y="1881.60" font-size="39.00" font-weight="bold">F</text>
<rect x="44.90" y="1853.00" width="134.00" height="120.80" fill="#f0f0f0"/>
<text x="111.90" y="1901.30" font-size="16.80" font-weight="bold" text-anchor="middle">Cancer</text>
<text x="111.90" y="1919.50" font-size="16.80" font-weight="bold" text-anchor="middle">predisposition</text>
<text x="111.90" y="1937.60" font-size="16.80" font-weight="bold" text-anchor="middle">genes</text>
<line x1="259.20" y1="1876.10" x2="414.80" y2="1876.10" stroke="#f0f0f0" stroke-width="2.00"/>
<line x1="259.20" y1="1913.40" x2="414.80" y2="1913.40" stroke="#f0f0f0" stroke-width="2.00"/>
<line x1="259.20" y1="1950.70" x2="414.80" y2="1950.70" stroke="#f0f0f0" stroke-width="2.00"/>
<line x1="266.00" y1="1854.20" x2="266.00" y2="1972.90" stroke="#f0f0f0" stroke-width="2.00"/>
<line x1="300.82" y1="1854.20" x2="300.82" y2="1972.90" stroke="#f0f0f0" stroke-width="2.00"/>
<line x1="335.64" y1="1854.20" x2="335.64" y2="1972.90" stroke="#f0f0f0" stroke-width="2.00"/>
<line x1="370.46" y1="1854.20" x2="370.46" y2="1972.90" stroke="#f0f0f0" stroke-width="2.00"/>
<line x1="405.28" y1="1854.20" x2="405.28" y2="1972.90" stroke="#f0f0f0" stroke-width="2.00"/>
<circle cx="370.81" cy="1913.40" r="5.60" fill="#00a087"/>
<circle cx="407.72" cy="1950.70" r="5.60" fill="#00a087"/>
<line x1="288.70" y1="1973.40" x2="288.70" y2="1854.20" stroke="#000" stroke-width="2.00" stroke-dasharray="6.0 6.0"/>
<line x1="259.20" y1="1854.20" x2="259.20" y2="1973.90" stroke="#000" stroke-width="2.00"/>
<line x1="253.60" y1="1876.10" x2="259.20" y2="1876.10" stroke="#000" stroke-width="2.00"/>
<line x1="253.60" y1="1913.40" x2="259.20" y2="1913.40" stroke="#000" stroke-width="2.00"/>
<line x1="253.60" y1="1950.70" x2="259.20" y2="1950.70" stroke="#000" stroke-width="2.00"/>
<line x1="258.20" y1="1972.90" x2="414.80" y2="1972.90" stroke="#000" stroke-width="2.00"/>
<line x1="266.00" y1="1972.90" x2="266.00" y2="1978.50" stroke="#000" stroke-width="2.00"/>
<text x="266.00" y="1995.00" font-size="16.70" text-anchor="middle">0</text>
<line x1="300.82" y1="1972.90" x2="300.82" y2="1978.50" stroke="#000" stroke-width="2.00"/>
<text x="300.82" y="1995.00" font-size="16.70" text-anchor="middle">2</text>
<line x1="335.64" y1="1972.90" x2="335.64" y2="1978.50" stroke="#000" stroke-width="2.00"/>
<text x="335.64" y="1995.00" font-size="16.70" text-anchor="middle">4</text>
<line x1="370.46" y1="1972.90" x2="370.46" y2="1978.50" stroke="#000" stroke-width="2.00"/>
<text x="370.46" y="1995.00" font-size="16.70" text-anchor="middle">6</text>
<line x1="405.28" y1="1972.90" x2="405.28" y2="1978.50" stroke="#000" stroke-width="2.00"/>
<text x="405.28" y="1995.00" font-size="16.70" text-anchor="middle">8</text>
<text x="249.60" y="1882.30" font-size="16.70" text-anchor="end">PBTA</text>
<text x="249.60" y="1919.60" font-size="16.70" text-anchor="end">PMBB</text>
<text x="249.60" y="1956.90" font-size="16.70" text-anchor="end">gnomAD</text>
<text x="337.00" y="2024.20" font-size="21.00" font-weight="bold" text-anchor="middle">–log10(p)</text>
<line x1="450.40" y1="1873.70" x2="632.00" y2="1873.70" stroke="#f0f0f0" stroke-width="2.00"/>
<line x1="450.40" y1="1906.90" x2="632.00" y2="1906.90" stroke="#f0f0f0" stroke-width="2.00"/>
<line x1="450.40" y1="1940.10" x2="632.00" y2="1940.10" stroke="#f0f0f0" stroke-width="2.00"/>
<line x1="490.80" y1="1854.20" x2="490.80" y2="1972.90" stroke="#f0f0f0" stroke-width="2.00"/>
<line x1="539.00" y1="1854.20" x2="539.00" y2="1972.90" stroke="#f0f0f0" stroke-width="2.00"/>
<line x1="587.10" y1="1854.20" x2="587.10" y2="1972.90" stroke="#f0f0f0" stroke-width="2.00"/>
<line x1="512.40" y1="1906.90" x2="611.30" y2="1906.90" stroke="#00a087" stroke-width="1.50"/>
<line x1="512.40" y1="1903.30" x2="512.40" y2="1910.50" stroke="#00a087" stroke-width="1.50"/>
<line x1="611.30" y1="1903.30" x2="611.30" y2="1910.50" stroke="#00a087" stroke-width="1.50"/>
<circle cx="557.30" cy="1906.90" r="5.60" fill="#00a087"/>
<line x1="527.20" y1="1940.10" x2="623.70" y2="1940.10" stroke="#00a087" stroke-width="1.50"/>
<line x1="527.20" y1="1936.50" x2="527.20" y2="1943.70" stroke="#00a087" stroke-width="1.50"/>
<line x1="623.70" y1="1936.50" x2="623.70" y2="1943.70" stroke="#00a087" stroke-width="1.50"/>
<circle cx="571.70" cy="1940.10" r="5.60" fill="#00a087"/>
<line x1="458.70" y1="1973.40" x2="458.70" y2="1854.20" stroke="#000" stroke-width="2.00" stroke-dasharray="6.0 6.0"/>
<line x1="450.40" y1="1854.20" x2="450.40" y2="1973.90" stroke="#000" stroke-width="2.00"/>
<line x1="444.80" y1="1873.70" x2="450.40" y2="1873.70" stroke="#000" stroke-width="2.00"/>
<line x1="444.80" y1="1906.90" x2="450.40" y2="1906.90" stroke="#000" stroke-width="2.00"/>
<line x1="444.80" y1="1940.10" x2="450.40" y2="1940.10" stroke="#000" stroke-width="2.00"/>
<line x1="449.40" y1="1972.90" x2="632.00" y2="1972.90" stroke="#000" stroke-width="2.00"/>
<line x1="490.80" y1="1972.90" x2="490.80" y2="1978.50" stroke="#000" stroke-width="2.00"/>
<text x="490.80" y="1995.00" font-size="16.70" text-anchor="middle">1.2</text>
<line x1="539.00" y1="1972.90" x2="539.00" y2="1978.50" stroke="#000" stroke-width="2.00"/>
<text x="539.00" y="1995.00" font-size="16.70" text-anchor="middle">1.5</text>
<line x1="587.10" y1="1972.90" x2="587.10" y2="1978.50" stroke="#000" stroke-width="2.00"/>
<text x="587.10" y="1995.00" font-size="16.70" text-anchor="middle">1.8</text>
<text x="541.20" y="2024.20" font-size="21.00" font-weight="bold" text-anchor="middle">Odds Ratio (95% CI)</text>
<line x1="673.30" y1="1876.10" x2="830.30" y2="1876.10" stroke="#f0f0f0" stroke-width="2.00"/>
<line x1="673.30" y1="1913.40" x2="830.30" y2="1913.40" stroke="#f0f0f0" stroke-width="2.00"/>
<line x1="673.30" y1="1950.70" x2="830.30" y2="1950.70" stroke="#f0f0f0" stroke-width="2.00"/>
<line x1="679.80" y1="1854.20" x2="679.80" y2="1972.90" stroke="#f0f0f0" stroke-width="2.00"/>
<line x1="715.95" y1="1854.20" x2="715.95" y2="1972.90" stroke="#f0f0f0" stroke-width="2.00"/>
<line x1="752.10" y1="1854.20" x2="752.10" y2="1972.90" stroke="#f0f0f0" stroke-width="2.00"/>
<line x1="788.25" y1="1854.20" x2="788.25" y2="1972.90" stroke="#f0f0f0" stroke-width="2.00"/>
<line x1="824.40" y1="1854.20" x2="824.40" y2="1972.90" stroke="#f0f0f0" stroke-width="2.00"/>
<rect x="679.80" y="1859.32" width="143.73" height="33.57" fill="#00a087" stroke="#000" stroke-width="1.70"/>
<text x="831.20" y="1881.60" font-size="15.30" font-weight="bold">165/830</text>
<rect x="679.80" y="1896.62" width="96.25" height="33.57" fill="#00a087" stroke="#000" stroke-width="1.70"/>
<text x="831.20" y="1918.90" font-size="15.30" font-weight="bold">838/6295</text>
<rect x="679.80" y="1933.91" width="91.84" height="33.57" fill="#00a087" stroke="#000" stroke-width="1.70"/>
<text x="831.20" y="1956.20" font-size="15.30" font-weight="bold">9403/74023</text>
<line x1="673.30" y1="1854.20" x2="673.30" y2="1973.90" stroke="#000" stroke-width="2.00"/>
<line x1="667.70" y1="1876.10" x2="673.30" y2="1876.10" stroke="#000" stroke-width="2.00"/>
<line x1="667.70" y1="1913.40" x2="673.30" y2="1913.40" stroke="#000" stroke-width="2.00"/>
<line x1="667.70" y1="1950.70" x2="673.30" y2="1950.70" stroke="#000" stroke-width="2.00"/>
<line x1="672.30" y1="1972.90" x2="830.30" y2="1972.90" stroke="#000" stroke-width="2.00"/>
<line x1="679.80" y1="1972.90" x2="679.80" y2="1978.50" stroke="#000" stroke-width="2.00"/>
<text x="679.80" y="1995.00" font-size="16.70" text-anchor="middle">0</text>
<line x1="715.95" y1="1972.90" x2="715.95" y2="1978.50" stroke="#000" stroke-width="2.00"/>
<text x="715.95" y="1995.00" font-size="16.70" text-anchor="middle">5</text>
<line x1="752.10" y1="1972.90" x2="752.10" y2="1978.50" stroke="#000" stroke-width="2.00"/>
<text x="752.10" y="1995.00" font-size="16.70" text-anchor="middle">10</text>
<line x1="788.25" y1="1972.90" x2="788.25" y2="1978.50" stroke="#000" stroke-width="2.00"/>
<text x="788.25" y="1995.00" font-size="16.70" text-anchor="middle">15</text>
<line x1="824.40" y1="1972.90" x2="824.40" y2="1978.50" stroke="#000" stroke-width="2.00"/>
<text x="824.40" y="1995.00" font-size="16.70" text-anchor="middle">20</text>
<text x="751.80" y="2024.20" font-size="21.00" font-weight="bold" text-anchor="middle">% Cohort P/LP</text>
</g>
<!-- Panel G -->
<g id="panelG" class="rt">
<text x="-1.80" y="2100.00" font-size="39.50" font-weight="bold">G</text>
<rect x="41.90" y="2072.20" width="93.00" height="98.70" fill="#f0f0f0"/>
<text x="88.40" y="2119.00" font-size="14.80" font-weight="bold" text-anchor="middle">All DNA</text>
<text x="88.40" y="2135.30" font-size="14.80" font-weight="bold" text-anchor="middle">Repair</text>
<rect x="41.90" y="2179.90" width="93.00" height="98.70" fill="#f0f0f0"/>
<text x="88.40" y="2226.40" font-size="14.80" font-weight="bold" text-anchor="middle">Other DNA</text>
<text x="88.40" y="2242.70" font-size="14.80" font-weight="bold" text-anchor="middle">Repair</text>
<rect x="41.90" y="2287.20" width="93.00" height="98.50" fill="#f0f0f0"/>
<text x="88.40" y="2333.60" font-size="14.80" font-weight="bold" text-anchor="middle">Mismatch</text>
<text x="88.40" y="2349.90" font-size="14.80" font-weight="bold" text-anchor="middle">Repair</text>
<line x1="205.50" y1="2091.00" x2="417.70" y2="2091.00" stroke="#f0f0f0" stroke-width="1.80"/>
<line x1="205.50" y1="2121.70" x2="417.70" y2="2121.70" stroke="#f0f0f0" stroke-width="1.80"/>
<line x1="205.50" y1="2152.40" x2="417.70" y2="2152.40" stroke="#f0f0f0" stroke-width="1.80"/>
<line x1="214.90" y1="2072.60" x2="214.90" y2="2170.80" stroke="#f0f0f0" stroke-width="1.80"/>
<line x1="262.35" y1="2072.60" x2="262.35" y2="2170.80" stroke="#f0f0f0" stroke-width="1.80"/>
<line x1="309.80" y1="2072.60" x2="309.80" y2="2170.80" stroke="#f0f0f0" stroke-width="1.80"/>
<line x1="357.25" y1="2072.60" x2="357.25" y2="2170.80" stroke="#f0f0f0" stroke-width="1.80"/>
<line x1="404.70" y1="2072.60" x2="404.70" y2="2170.80" stroke="#f0f0f0" stroke-width="1.80"/>
<line x1="205.50" y1="2198.50" x2="417.70" y2="2198.50" stroke="#f0f0f0" stroke-width="1.80"/>
<line x1="205.50" y1="2229.20" x2="417.70" y2="2229.20" stroke="#f0f0f0" stroke-width="1.80"/>
<line x1="205.50" y1="2259.90" x2="417.70" y2="2259.90" stroke="#f0f0f0" stroke-width="1.80"/>
<line x1="214.90" y1="2180.10" x2="214.90" y2="2278.30" stroke="#f0f0f0" stroke-width="1.80"/>
<line x1="262.35" y1="2180.10" x2="262.35" y2="2278.30" stroke="#f0f0f0" stroke-width="1.80"/>
<line x1="309.80" y1="2180.10" x2="309.80" y2="2278.30" stroke="#f0f0f0" stroke-width="1.80"/>
<line x1="357.25" y1="2180.10" x2="357.25" y2="2278.30" stroke="#f0f0f0" stroke-width="1.80"/>
<line x1="404.70" y1="2180.10" x2="404.70" y2="2278.30" stroke="#f0f0f0" stroke-width="1.80"/>
<line x1="205.50" y1="2305.90" x2="417.70" y2="2305.90" stroke="#f0f0f0" stroke-width="1.80"/>
<line x1="205.50" y1="2336.60" x2="417.70" y2="2336.60" stroke="#f0f0f0" stroke-width="1.80"/>
<line x1="205.50" y1="2367.30" x2="417.70" y2="2367.30" stroke="#f0f0f0" stroke-width="1.80"/>
<line x1="214.90" y1="2287.50" x2="214.90" y2="2384.70" stroke="#f0f0f0" stroke-width="1.80"/>
<line x1="262.35" y1="2287.50" x2="262.35" y2="2384.70" stroke="#f0f0f0" stroke-width="1.80"/>
<line x1="309.80" y1="2287.50" x2="309.80" y2="2384.70" stroke="#f0f0f0" stroke-width="1.80"/>
<line x1="357.25" y1="2287.50" x2="357.25" y2="2384.70" stroke="#f0f0f0" stroke-width="1.80"/>
<line x1="404.70" y1="2287.50" x2="404.70" y2="2384.70" stroke="#f0f0f0" stroke-width="1.80"/>
<circle cx="374.81" cy="2121.70" r="5.00" fill="#00a087"/>
<circle cx="408.50" cy="2152.40" r="5.00" fill="#00a087"/>
<circle cx="335.66" cy="2229.20" r="5.00" fill="#00a087"/>
<circle cx="363.89" cy="2259.90" r="5.00" fill="#00a087"/>
<circle cx="328.78" cy="2336.60" r="5.00" fill="#00a087"/>
<circle cx="350.61" cy="2367.30" r="5.00" fill="#00a087"/>
<line x1="321.80" y1="2170.80" x2="321.80" y2="2072.60" stroke="#000" stroke-width="1.70" stroke-dasharray="5.9 4.75"/>
<line x1="205.50" y1="2072.60" x2="205.50" y2="2170.80" stroke="#000" stroke-width="1.80"/>
<line x1="200.50" y1="2091.00" x2="205.50" y2="2091.00" stroke="#000" stroke-width="1.80"/>
<line x1="200.50" y1="2121.70" x2="205.50" y2="2121.70" stroke="#000" stroke-width="1.80"/>
<line x1="200.50" y1="2152.40" x2="205.50" y2="2152.40" stroke="#000" stroke-width="1.80"/>
<line x1="321.80" y1="2278.30" x2="321.80" y2="2180.10" stroke="#000" stroke-width="1.70" stroke-dasharray="5.9 4.75"/>
<line x1="205.50" y1="2180.10" x2="205.50" y2="2278.30" stroke="#000" stroke-width="1.80"/>
<line x1="200.50" y1="2198.50" x2="205.50" y2="2198.50" stroke="#000" stroke-width="1.80"/>
<line x1="200.50" y1="2229.20" x2="205.50" y2="2229.20" stroke="#000" stroke-width="1.80"/>
<line x1="200.50" y1="2259.90" x2="205.50" y2="2259.90" stroke="#000" stroke-width="1.80"/>
<line x1="321.80" y1="2385.20" x2="321.80" y2="2287.50" stroke="#000" stroke-width="1.70" stroke-dasharray="5.9 4.75"/>
<line x1="205.50" y1="2287.50" x2="205.50" y2="2385.60" stroke="#000" stroke-width="1.80"/>
<line x1="200.50" y1="2305.90" x2="205.50" y2="2305.90" stroke="#000" stroke-width="1.80"/>
<line x1="200.50" y1="2336.60" x2="205.50" y2="2336.60" stroke="#000" stroke-width="1.80"/>
<line x1="200.50" y1="2367.30" x2="205.50" y2="2367.30" stroke="#000" stroke-width="1.80"/>
<line x1="204.60" y1="2384.70" x2="417.70" y2="2384.70" stroke="#000" stroke-width="1.80"/>
<line x1="214.90" y1="2384.70" x2="214.90" y2="2389.70" stroke="#000" stroke-width="1.80"/>
<text x="214.90" y="2404.60" font-size="14.80" text-anchor="middle">0</text>
<line x1="262.35" y1="2384.70" x2="262.35" y2="2389.70" stroke="#000" stroke-width="1.80"/>
<text x="262.35" y="2404.60" font-size="14.80" text-anchor="middle">1</text>
<line x1="309.80" y1="2384.70" x2="309.80" y2="2389.70" stroke="#000" stroke-width="1.80"/>
<text x="309.80" y="2404.60" font-size="14.80" text-anchor="middle">2</text>
<line x1="357.25" y1="2384.70" x2="357.25" y2="2389.70" stroke="#000" stroke-width="1.80"/>
<text x="357.25" y="2404.60" font-size="14.80" text-anchor="middle">3</text>
<line x1="404.70" y1="2384.70" x2="404.70" y2="2389.70" stroke="#000" stroke-width="1.80"/>
<text x="404.70" y="2404.60" font-size="14.80" text-anchor="middle">4</text>
<text x="196.80" y="2096.40" font-size="14.80" text-anchor="end">PBTA</text>
<text x="196.80" y="2127.10" font-size="14.80" text-anchor="end">PMBB</text>
<text x="196.80" y="2157.80" font-size="14.80" text-anchor="end">gnomAD</text>
<text x="196.80" y="2203.90" font-size="14.80" text-anchor="end">PBTA</text>
<text x="196.80" y="2234.60" font-size="14.80" text-anchor="end">PMBB</text>
<text x="196.80" y="2265.30" font-size="14.80" text-anchor="end">gnomAD</text>
<text x="196.80" y="2311.30" font-size="14.80" text-anchor="end">PBTA</text>
<text x="196.80" y="2342.00" font-size="14.80" text-anchor="end">PMBB</text>
<text x="196.80" y="2372.70" font-size="14.80" text-anchor="end">gnomAD</text>
<text x="311.60" y="2430.20" font-size="18.65" font-weight="bold" text-anchor="middle">–log10(p)</text>
<line x1="449.80" y1="2089.20" x2="634.90" y2="2089.20" stroke="#f0f0f0" stroke-width="1.80"/>
<line x1="449.80" y1="2116.40" x2="634.90" y2="2116.40" stroke="#f0f0f0" stroke-width="1.80"/>
<line x1="449.80" y1="2143.60" x2="634.90" y2="2143.60" stroke="#f0f0f0" stroke-width="1.80"/>
<line x1="458.40" y1="2072.60" x2="458.40" y2="2170.80" stroke="#f0f0f0" stroke-width="1.80"/>
<line x1="499.80" y1="2072.60" x2="499.80" y2="2170.80" stroke="#f0f0f0" stroke-width="1.80"/>
<line x1="541.20" y1="2072.60" x2="541.20" y2="2170.80" stroke="#f0f0f0" stroke-width="1.80"/>
<line x1="582.60" y1="2072.60" x2="582.60" y2="2170.80" stroke="#f0f0f0" stroke-width="1.80"/>
<line x1="624.00" y1="2072.60" x2="624.00" y2="2170.80" stroke="#f0f0f0" stroke-width="1.80"/>
<line x1="449.80" y1="2196.70" x2="634.90" y2="2196.70" stroke="#f0f0f0" stroke-width="1.80"/>
<line x1="449.80" y1="2223.90" x2="634.90" y2="2223.90" stroke="#f0f0f0" stroke-width="1.80"/>
<line x1="449.80" y1="2251.10" x2="634.90" y2="2251.10" stroke="#f0f0f0" stroke-width="1.80"/>
<line x1="458.40" y1="2180.10" x2="458.40" y2="2278.30" stroke="#f0f0f0" stroke-width="1.80"/>
<line x1="499.80" y1="2180.10" x2="499.80" y2="2278.30" stroke="#f0f0f0" stroke-width="1.80"/>
<line x1="541.20" y1="2180.10" x2="541.20" y2="2278.30" stroke="#f0f0f0" stroke-width="1.80"/>
<line x1="582.60" y1="2180.10" x2="582.60" y2="2278.30" stroke="#f0f0f0" stroke-width="1.80"/>
<line x1="624.00" y1="2180.10" x2="624.00" y2="2278.30" stroke="#f0f0f0" stroke-width="1.80"/>
<line x1="449.80" y1="2304.10" x2="634.90" y2="2304.10" stroke="#f0f0f0" stroke-width="1.80"/>
<line x1="449.80" y1="2331.30" x2="634.90" y2="2331.30" stroke="#f0f0f0" stroke-width="1.80"/>
<line x1="449.80" y1="2358.50" x2="634.90" y2="2358.50" stroke="#f0f0f0" stroke-width="1.80"/>
<line x1="458.40" y1="2287.50" x2="458.40" y2="2384.70" stroke="#f0f0f0" stroke-width="1.80"/>
<line x1="499.80" y1="2287.50" x2="499.80" y2="2384.70" stroke="#f0f0f0" stroke-width="1.80"/>
<line x1="541.20" y1="2287.50" x2="541.20" y2="2384.70" stroke="#f0f0f0" stroke-width="1.80"/>
<line x1="582.60" y1="2287.50" x2="582.60" y2="2384.70" stroke="#f0f0f0" stroke-width="1.80"/>
<line x1="624.00" y1="2287.50" x2="624.00" y2="2384.70" stroke="#f0f0f0" stroke-width="1.80"/>
<line x1="465.20" y1="2116.40" x2="490.00" y2="2116.40" stroke="#00a087" stroke-width="1.35"/>
<line x1="465.20" y1="2113.20" x2="465.20" y2="2119.60" stroke="#00a087" stroke-width="1.35"/>
<line x1="490.00" y1="2113.20" x2="490.00" y2="2119.60" stroke="#00a087" stroke-width="1.35"/>
<circle cx="476.40" cy="2116.40" r="5.00" fill="#00a087"/>
<line x1="466.90" y1="2143.60" x2="490.00" y2="2143.60" stroke="#00a087" stroke-width="1.35"/>
<line x1="466.90" y1="2140.40" x2="466.90" y2="2146.80" stroke="#00a087" stroke-width="1.35"/>
<line x1="490.00" y1="2140.40" x2="490.00" y2="2146.80" stroke="#00a087" stroke-width="1.35"/>
<circle cx="477.60" cy="2143.60" r="5.00" fill="#00a087"/>
<line x1="467.20" y1="2223.90" x2="529.50" y2="2223.90" stroke="#00a087" stroke-width="1.35"/>
<line x1="467.20" y1="2220.70" x2="467.20" y2="2227.10" stroke="#00a087" stroke-width="1.35"/>
<line x1="529.50" y1="2220.70" x2="529.50" y2="2227.10" stroke="#00a087" stroke-width="1.35"/>
<circle cx="492.90" cy="2223.90" r="5.00" fill="#00a087"/>
<line x1="471.40" y1="2251.10" x2="529.80" y2="2251.10" stroke="#00a087" stroke-width="1.35"/>
<line x1="471.40" y1="2247.90" x2="471.40" y2="2254.30" stroke="#00a087" stroke-width="1.35"/>
<line x1="529.80" y1="2247.90" x2="529.80" y2="2254.30" stroke="#00a087" stroke-width="1.35"/>
<circle cx="496.50" cy="2251.10" r="5.00" fill="#00a087"/>
<line x1="472.30" y1="2331.30" x2="626.90" y2="2331.30" stroke="#00a087" stroke-width="1.35"/>
<line x1="472.30" y1="2328.10" x2="472.30" y2="2334.50" stroke="#00a087" stroke-width="1.35"/>
<line x1="626.90" y1="2328.10" x2="626.90" y2="2334.50" stroke="#00a087" stroke-width="1.35"/>
<circle cx="528.00" cy="2331.30" r="5.00" fill="#00a087"/>
<line x1="476.10" y1="2358.50" x2="604.20" y2="2358.50" stroke="#00a087" stroke-width="1.35"/>
<line x1="476.10" y1="2355.30" x2="476.10" y2="2361.70" stroke="#00a087" stroke-width="1.35"/>
<line x1="604.20" y1="2355.30" x2="604.20" y2="2361.70" stroke="#00a087" stroke-width="1.35"/>
<circle cx="526.60" cy="2358.50" r="5.00" fill="#00a087"/>
<line x1="458.40" y1="2170.80" x2="458.40" y2="2072.60" stroke="#000" stroke-width="1.70" stroke-dasharray="5.9 4.75"/>
<line x1="449.80" y1="2072.60" x2="449.80" y2="2170.80" stroke="#000" stroke-width="1.80"/>
<line x1="444.80" y1="2089.20" x2="449.80" y2="2089.20" stroke="#000" stroke-width="1.80"/>
<line x1="444.80" y1="2116.40" x2="449.80" y2="2116.40" stroke="#000" stroke-width="1.80"/>
<line x1="444.80" y1="2143.60" x2="449.80" y2="2143.60" stroke="#000" stroke-width="1.80"/>
<line x1="458.40" y1="2278.30" x2="458.40" y2="2180.10" stroke="#000" stroke-width="1.70" stroke-dasharray="5.9 4.75"/>
<line x1="449.80" y1="2180.10" x2="449.80" y2="2278.30" stroke="#000" stroke-width="1.80"/>
<line x1="444.80" y1="2196.70" x2="449.80" y2="2196.70" stroke="#000" stroke-width="1.80"/>
<line x1="444.80" y1="2223.90" x2="449.80" y2="2223.90" stroke="#000" stroke-width="1.80"/>
<line x1="444.80" y1="2251.10" x2="449.80" y2="2251.10" stroke="#000" stroke-width="1.80"/>
<line x1="458.40" y1="2385.20" x2="458.40" y2="2287.50" stroke="#000" stroke-width="1.70" stroke-dasharray="5.9 4.75"/>
<line x1="449.80" y1="2287.50" x2="449.80" y2="2385.60" stroke="#000" stroke-width="1.80"/>
<line x1="444.80" y1="2304.10" x2="449.80" y2="2304.10" stroke="#000" stroke-width="1.80"/>
<line x1="444.80" y1="2331.30" x2="449.80" y2="2331.30" stroke="#000" stroke-width="1.80"/>
<line x1="444.80" y1="2358.50" x2="449.80" y2="2358.50" stroke="#000" stroke-width="1.80"/>
<line x1="448.90" y1="2384.70" x2="634.90" y2="2384.70" stroke="#000" stroke-width="1.80"/>
<line x1="458.40" y1="2384.70" x2="458.40" y2="2389.70" stroke="#000" stroke-width="1.80"/>
<text x="458.40" y="2404.60" font-size="14.80" text-anchor="middle">1</text>
<line x1="499.80" y1="2384.70" x2="499.80" y2="2389.70" stroke="#000" stroke-width="1.80"/>
<text x="499.80" y="2404.60" font-size="14.80" text-anchor="middle">2</text>
<line x1="541.20" y1="2384.70" x2="541.20" y2="2389.70" stroke="#000" stroke-width="1.80"/>
<text x="541.20" y="2404.60" font-size="14.80" text-anchor="middle">3</text>
<line x1="582.60" y1="2384.70" x2="582.60" y2="2389.70" stroke="#000" stroke-width="1.80"/>
<text x="582.60" y="2404.60" font-size="14.80" text-anchor="middle">4</text>
<line x1="624.00" y1="2384.70" x2="624.00" y2="2389.70" stroke="#000" stroke-width="1.80"/>
<text x="624.00" y="2404.60" font-size="14.80" text-anchor="middle">5</text>
<text x="542.35" y="2430.20" font-size="18.65" font-weight="bold" text-anchor="middle">Odds Ratio (95% CI)</text>
<line x1="671.20" y1="2091.00" x2="828.30" y2="2091.00" stroke="#f0f0f0" stroke-width="1.80"/>
<line x1="671.20" y1="2121.70" x2="828.30" y2="2121.70" stroke="#f0f0f0" stroke-width="1.80"/>
<line x1="671.20" y1="2152.40" x2="828.30" y2="2152.40" stroke="#f0f0f0" stroke-width="1.80"/>
<line x1="678.30" y1="2072.60" x2="678.30" y2="2170.80" stroke="#f0f0f0" stroke-width="1.80"/>
<line x1="720.33" y1="2072.60" x2="720.33" y2="2170.80" stroke="#f0f0f0" stroke-width="1.80"/>
<line x1="762.37" y1="2072.60" x2="762.37" y2="2170.80" stroke="#f0f0f0" stroke-width="1.80"/>
<line x1="804.40" y1="2072.60" x2="804.40" y2="2170.80" stroke="#f0f0f0" stroke-width="1.80"/>
<line x1="671.20" y1="2198.50" x2="828.30" y2="2198.50" stroke="#f0f0f0" stroke-width="1.80"/>
<line x1="671.20" y1="2229.20" x2="828.30" y2="2229.20" stroke="#f0f0f0" stroke-width="1.80"/>
<line x1="671.20" y1="2259.90" x2="828.30" y2="2259.90" stroke="#f0f0f0" stroke-width="1.80"/>
<line x1="678.30" y1="2180.10" x2="678.30" y2="2278.30" stroke="#f0f0f0" stroke-width="1.80"/>
<line x1="720.33" y1="2180.10" x2="720.33" y2="2278.30" stroke="#f0f0f0" stroke-width="1.80"/>
<line x1="762.37" y1="2180.10" x2="762.37" y2="2278.30" stroke="#f0f0f0" stroke-width="1.80"/>
<line x1="804.40" y1="2180.10" x2="804.40" y2="2278.30" stroke="#f0f0f0" stroke-width="1.80"/>
<line x1="671.20" y1="2305.90" x2="828.30" y2="2305.90" stroke="#f0f0f0" stroke-width="1.80"/>
<line x1="671.20" y1="2336.60" x2="828.30" y2="2336.60" stroke="#f0f0f0" stroke-width="1.80"/>
<line x1="671.20" y1="2367.30" x2="828.30" y2="2367.30" stroke="#f0f0f0" stroke-width="1.80"/>
<line x1="678.30" y1="2287.50" x2="678.30" y2="2384.70" stroke="#f0f0f0" stroke-width="1.80"/>
<line x1="720.33" y1="2287.50" x2="720.33" y2="2384.70" stroke="#f0f0f0" stroke-width="1.80"/>
<line x1="762.37" y1="2287.50" x2="762.37" y2="2384.70" stroke="#f0f0f0" stroke-width="1.80"/>
<line x1="804.40" y1="2287.50" x2="804.40" y2="2384.70" stroke="#f0f0f0" stroke-width="1.80"/>
<rect x="678.30" y="2077.18" width="142.82" height="27.63" fill="#00a087" stroke="#000" stroke-width="1.50"/>
<text x="828.90" y="2095.80" font-size="13.50" font-weight="bold">141/830</text>
<rect x="678.30" y="2107.88" width="104.70" height="27.63" fill="#00a087" stroke="#000" stroke-width="1.50"/>
<text x="828.90" y="2126.50" font-size="13.50" font-weight="bold">784/6295</text>
<rect x="678.30" y="2138.59" width="103.31" height="27.63" fill="#00a087" stroke="#000" stroke-width="1.50"/>
<text x="828.90" y="2157.20" font-size="13.50" font-weight="bold">9096/74023</text>
<rect x="678.30" y="2184.68" width="34.44" height="27.63" fill="#00a087" stroke="#000" stroke-width="1.50"/>
<text x="828.90" y="2203.30" font-size="13.50" font-weight="bold">34/830</text>
<rect x="678.30" y="2215.38" width="19.10" height="27.63" fill="#00a087" stroke="#000" stroke-width="1.50"/>
<text x="828.90" y="2234.00" font-size="13.50" font-weight="bold">143/6295</text>
<rect x="678.30" y="2246.09" width="18.27" height="27.63" fill="#00a087" stroke="#000" stroke-width="1.50"/>
<text x="828.90" y="2264.70" font-size="13.50" font-weight="bold">1609/74023</text>
<rect x="678.30" y="2292.09" width="14.18" height="27.63" fill="#00a087" stroke="#000" stroke-width="1.50"/>
<text x="828.90" y="2310.70" font-size="13.50" font-weight="bold">14/830</text>
<rect x="678.30" y="2322.78" width="5.34" height="27.63" fill="#00a087" stroke="#000" stroke-width="1.50"/>
<text x="828.90" y="2341.40" font-size="13.50" font-weight="bold">40/6295</text>
<rect x="678.30" y="2353.49" width="5.41" height="27.63" fill="#00a087" stroke="#000" stroke-width="1.50"/>
<text x="828.90" y="2372.10" font-size="13.50" font-weight="bold">476/74023</text>
<line x1="671.20" y1="2072.60" x2="671.20" y2="2170.80" stroke="#000" stroke-width="1.80"/>
<line x1="666.20" y1="2091.00" x2="671.20" y2="2091.00" stroke="#000" stroke-width="1.80"/>
<line x1="666.20" y1="2121.70" x2="671.20" y2="2121.70" stroke="#000" stroke-width="1.80"/>
<line x1="666.20" y1="2152.40" x2="671.20" y2="2152.40" stroke="#000" stroke-width="1.80"/>
<line x1="671.20" y1="2180.10" x2="671.20" y2="2278.30" stroke="#000" stroke-width="1.80"/>
<line x1="666.20" y1="2198.50" x2="671.20" y2="2198.50" stroke="#000" stroke-width="1.80"/>
<line x1="666.20" y1="2229.20" x2="671.20" y2="2229.20" stroke="#000" stroke-width="1.80"/>
<line x1="666.20" y1="2259.90" x2="671.20" y2="2259.90" stroke="#000" stroke-width="1.80"/>
<line x1="671.20" y1="2287.50" x2="671.20" y2="2385.60" stroke="#000" stroke-width="1.80"/>
<line x1="666.20" y1="2305.90" x2="671.20" y2="2305.90" stroke="#000" stroke-width="1.80"/>
<line x1="666.20" y1="2336.60" x2="671.20" y2="2336.60" stroke="#000" stroke-width="1.80"/>
<line x1="666.20" y1="2367.30" x2="671.20" y2="2367.30" stroke="#000" stroke-width="1.80"/>
<line x1="670.30" y1="2384.70" x2="828.30" y2="2384.70" stroke="#000" stroke-width="1.80"/>
<line x1="678.30" y1="2384.70" x2="678.30" y2="2389.70" stroke="#000" stroke-width="1.80"/>
<text x="678.30" y="2404.60" font-size="14.80" text-anchor="middle">0</text>
<line x1="720.33" y1="2384.70" x2="720.33" y2="2389.70" stroke="#000" stroke-width="1.80"/>
<text x="720.33" y="2404.60" font-size="14.80" text-anchor="middle">5</text>
<line x1="762.37" y1="2384.70" x2="762.37" y2="2389.70" stroke="#000" stroke-width="1.80"/>
<text x="762.37" y="2404.60" font-size="14.80" text-anchor="middle">10</text>
<line x1="804.40" y1="2384.70" x2="804.40" y2="2389.70" stroke="#000" stroke-width="1.80"/>
<text x="804.40" y="2404.60" font-size="14.80" text-anchor="middle">15</text>
<text x="749.75" y="2430.20" font-size="18.65" font-weight="bold" text-anchor="middle">% Cohort P/LP</text>
</g>
<!-- Panel H -->
<g id="panelH" class="rt">
<text x="951.90" y="1884.30" font-size="39.50" font-weight="bold">H</text>
<rect x="997.90" y="1836.20" width="100.10" height="105.60" fill="#f0f0f0"/>
<text x="1047.95" y="1872.20" font-size="13.15" font-weight="bold" text-anchor="middle">Other</text>
<text x="1047.95" y="1886.60" font-size="13.15" font-weight="bold" text-anchor="middle">high–grade</text>
<text x="1047.95" y="1900.60" font-size="13.15" font-weight="bold" text-anchor="middle">glioma: All</text>
<text x="1047.95" y="1914.70" font-size="13.15" font-weight="bold" text-anchor="middle">DNA Repair</text>
<rect x="997.90" y="1949.10" width="100.10" height="105.20" fill="#f0f0f0"/>
<text x="1047.95" y="1985.10" font-size="13.15" font-weight="bold" text-anchor="middle">Other</text>
<text x="1047.95" y="1999.40" font-size="13.15" font-weight="bold" text-anchor="middle">high–grade</text>
<text x="1047.95" y="2013.50" font-size="13.15" font-weight="bold" text-anchor="middle">glioma: Other</text>
<text x="1047.95" y="2027.80" font-size="13.15" font-weight="bold" text-anchor="middle">DNA Repair</text>
<rect x="997.90" y="2062.20" width="100.10" height="105.00" fill="#f0f0f0"/>
<text x="1047.95" y="2090.90" font-size="13.15" font-weight="bold" text-anchor="middle">Other</text>
<text x="1047.95" y="2104.90" font-size="13.15" font-weight="bold" text-anchor="middle">high–grade</text>
<text x="1047.95" y="2119.00" font-size="13.15" font-weight="bold" text-anchor="middle">glioma:</text>
<text x="1047.95" y="2133.40" font-size="13.15" font-weight="bold" text-anchor="middle">Mismatch</text>
<text x="1047.95" y="2147.70" font-size="13.15" font-weight="bold" text-anchor="middle">Repair</text>
<line x1="1160.00" y1="1856.10" x2="1328.60" y2="1856.10" stroke="#f0f0f0" stroke-width="1.60"/>
<line x1="1160.00" y1="1888.95" x2="1328.60" y2="1888.95" stroke="#f0f0f0" stroke-width="1.60"/>
<line x1="1160.00" y1="1921.80" x2="1328.60" y2="1921.80" stroke="#f0f0f0" stroke-width="1.60"/>
<line x1="1167.50" y1="1836.50" x2="1167.50" y2="1941.60" stroke="#f0f0f0" stroke-width="1.60"/>
<line x1="1207.10" y1="1836.50" x2="1207.10" y2="1941.60" stroke="#f0f0f0" stroke-width="1.60"/>
<line x1="1246.70" y1="1836.50" x2="1246.70" y2="1941.60" stroke="#f0f0f0" stroke-width="1.60"/>
<line x1="1286.30" y1="1836.50" x2="1286.30" y2="1941.60" stroke="#f0f0f0" stroke-width="1.60"/>
<line x1="1325.90" y1="1836.50" x2="1325.90" y2="1941.60" stroke="#f0f0f0" stroke-width="1.60"/>
<line x1="1160.00" y1="1968.90" x2="1328.60" y2="1968.90" stroke="#f0f0f0" stroke-width="1.60"/>
<line x1="1160.00" y1="2001.75" x2="1328.60" y2="2001.75" stroke="#f0f0f0" stroke-width="1.60"/>
<line x1="1160.00" y1="2034.60" x2="1328.60" y2="2034.60" stroke="#f0f0f0" stroke-width="1.60"/>
<line x1="1167.50" y1="1949.30" x2="1167.50" y2="2054.40" stroke="#f0f0f0" stroke-width="1.60"/>
<line x1="1207.10" y1="1949.30" x2="1207.10" y2="2054.40" stroke="#f0f0f0" stroke-width="1.60"/>
<line x1="1246.70" y1="1949.30" x2="1246.70" y2="2054.40" stroke="#f0f0f0" stroke-width="1.60"/>
<line x1="1286.30" y1="1949.30" x2="1286.30" y2="2054.40" stroke="#f0f0f0" stroke-width="1.60"/>
<line x1="1325.90" y1="1949.30" x2="1325.90" y2="2054.40" stroke="#f0f0f0" stroke-width="1.60"/>
<line x1="1160.00" y1="2081.80" x2="1328.60" y2="2081.80" stroke="#f0f0f0" stroke-width="1.60"/>
<line x1="1160.00" y1="2114.65" x2="1328.60" y2="2114.65" stroke="#f0f0f0" stroke-width="1.60"/>
<line x1="1160.00" y1="2147.50" x2="1328.60" y2="2147.50" stroke="#f0f0f0" stroke-width="1.60"/>
<line x1="1167.50" y1="2062.20" x2="1167.50" y2="2166.40" stroke="#f0f0f0" stroke-width="1.60"/>
<line x1="1207.10" y1="2062.20" x2="1207.10" y2="2166.40" stroke="#f0f0f0" stroke-width="1.60"/>
<line x1="1246.70" y1="2062.20" x2="1246.70" y2="2166.40" stroke="#f0f0f0" stroke-width="1.60"/>
<line x1="1286.30" y1="2062.20" x2="1286.30" y2="2166.40" stroke="#f0f0f0" stroke-width="1.60"/>
<line x1="1325.90" y1="2062.20" x2="1325.90" y2="2166.40" stroke="#f0f0f0" stroke-width="1.60"/>
<circle cx="1319.17" cy="1888.95" r="4.60" fill="#00a087"/>
<circle cx="1321.15" cy="1921.80" r="4.60" fill="#00a087"/>
<circle cx="1274.42" cy="2001.75" r="4.60" fill="#00a087"/>
<circle cx="1280.76" cy="2034.60" r="4.60" fill="#00a087"/>
<circle cx="1276.60" cy="2114.65" r="4.60" fill="#00a087"/>
<circle cx="1278.78" cy="2147.50" r="4.60" fill="#00a087"/>
<line x1="1252.20" y1="1941.60" x2="1252.20" y2="1836.50" stroke="#000" stroke-width="1.60" stroke-dasharray="5.1 4.3"/>
<line x1="1160.00" y1="1836.50" x2="1160.00" y2="1941.60" stroke="#000" stroke-width="1.60"/>
<line x1="1155.50" y1="1856.10" x2="1160.00" y2="1856.10" stroke="#000" stroke-width="1.60"/>
<line x1="1155.50" y1="1888.95" x2="1160.00" y2="1888.95" stroke="#000" stroke-width="1.60"/>
<line x1="1155.50" y1="1921.80" x2="1160.00" y2="1921.80" stroke="#000" stroke-width="1.60"/>
<line x1="1252.20" y1="2054.40" x2="1252.20" y2="1949.30" stroke="#000" stroke-width="1.60" stroke-dasharray="5.1 4.3"/>
<line x1="1160.00" y1="1949.30" x2="1160.00" y2="2054.40" stroke="#000" stroke-width="1.60"/>
<line x1="1155.50" y1="1968.90" x2="1160.00" y2="1968.90" stroke="#000" stroke-width="1.60"/>
<line x1="1155.50" y1="2001.75" x2="1160.00" y2="2001.75" stroke="#000" stroke-width="1.60"/>
<line x1="1155.50" y1="2034.60" x2="1160.00" y2="2034.60" stroke="#000" stroke-width="1.60"/>
<line x1="1252.20" y1="2166.90" x2="1252.20" y2="2062.20" stroke="#000" stroke-width="1.60" stroke-dasharray="5.1 4.3"/>
<line x1="1160.00" y1="2062.20" x2="1160.00" y2="2167.20" stroke="#000" stroke-width="1.60"/>
<line x1="1155.50" y1="2081.80" x2="1160.00" y2="2081.80" stroke="#000" stroke-width="1.60"/>
<line x1="1155.50" y1="2114.65" x2="1160.00" y2="2114.65" stroke="#000" stroke-width="1.60"/>
<line x1="1155.50" y1="2147.50" x2="1160.00" y2="2147.50" stroke="#000" stroke-width="1.60"/>
<line x1="1159.20" y1="2166.40" x2="1328.60" y2="2166.40" stroke="#000" stroke-width="1.60"/>
<line x1="1167.50" y1="2166.40" x2="1167.50" y2="2170.90" stroke="#000" stroke-width="1.60"/>
<text x="1167.50" y="2183.10" font-size="13.00" text-anchor="middle">0</text>
<line x1="1207.10" y1="2166.40" x2="1207.10" y2="2170.90" stroke="#000" stroke-width="1.60"/>
<text x="1207.10" y="2183.10" font-size="13.00" text-anchor="middle">1</text>
<line x1="1246.70" y1="2166.40" x2="1246.70" y2="2170.90" stroke="#000" stroke-width="1.60"/>
<text x="1246.70" y="2183.10" font-size="13.00" text-anchor="middle">2</text>
<line x1="1286.30" y1="2166.40" x2="1286.30" y2="2170.90" stroke="#000" stroke-width="1.60"/>
<text x="1286.30" y="2183.10" font-size="13.00" text-anchor="middle">3</text>
<line x1="1325.90" y1="2166.40" x2="1325.90" y2="2170.90" stroke="#000" stroke-width="1.60"/>
<text x="1325.90" y="2183.10" font-size="13.00" text-anchor="middle">4</text>
<text x="1152.30" y="1860.90" font-size="13.00" text-anchor="end">PBTA</text>
<text x="1152.30" y="1893.75" font-size="13.00" text-anchor="end">PMBB</text>
<text x="1152.30" y="1926.60" font-size="13.00" text-anchor="end">gnomAD</text>
<text x="1152.30" y="1973.70" font-size="13.00" text-anchor="end">PBTA</text>
<text x="1152.30" y="2006.55" font-size="13.00" text-anchor="end">PMBB</text>
<text x="1152.30" y="2039.40" font-size="13.00" text-anchor="end">gnomAD</text>
<text x="1152.30" y="2086.60" font-size="13.00" text-anchor="end">PBTA</text>
<text x="1152.30" y="2119.45" font-size="13.00" text-anchor="end">PMBB</text>
<text x="1152.30" y="2152.30" font-size="13.00" text-anchor="end">gnomAD</text>
<text x="1244.30" y="2206.30" font-size="16.35" font-weight="bold" text-anchor="middle">–log10(p)</text>
<line x1="1356.90" y1="1854.10" x2="1519.80" y2="1854.10" stroke="#f0f0f0" stroke-width="1.60"/>
<line x1="1356.90" y1="1883.20" x2="1519.80" y2="1883.20" stroke="#f0f0f0" stroke-width="1.60"/>
<line x1="1356.90" y1="1912.30" x2="1519.80" y2="1912.30" stroke="#f0f0f0" stroke-width="1.60"/>
<line x1="1364.20" y1="1836.50" x2="1364.20" y2="1941.60" stroke="#f0f0f0" stroke-width="1.60"/>
<line x1="1417.10" y1="1836.50" x2="1417.10" y2="1941.60" stroke="#f0f0f0" stroke-width="1.60"/>
<line x1="1470.00" y1="1836.50" x2="1470.00" y2="1941.60" stroke="#f0f0f0" stroke-width="1.60"/>
<line x1="1356.90" y1="1966.90" x2="1519.80" y2="1966.90" stroke="#f0f0f0" stroke-width="1.60"/>
<line x1="1356.90" y1="1996.00" x2="1519.80" y2="1996.00" stroke="#f0f0f0" stroke-width="1.60"/>
<line x1="1356.90" y1="2025.10" x2="1519.80" y2="2025.10" stroke="#f0f0f0" stroke-width="1.60"/>
<line x1="1364.20" y1="1949.30" x2="1364.20" y2="2054.40" stroke="#f0f0f0" stroke-width="1.60"/>
<line x1="1417.10" y1="1949.30" x2="1417.10" y2="2054.40" stroke="#f0f0f0" stroke-width="1.60"/>
<line x1="1470.00" y1="1949.30" x2="1470.00" y2="2054.40" stroke="#f0f0f0" stroke-width="1.60"/>
<line x1="1356.90" y1="2079.80" x2="1519.80" y2="2079.80" stroke="#f0f0f0" stroke-width="1.60"/>
<line x1="1356.90" y1="2108.90" x2="1519.80" y2="2108.90" stroke="#f0f0f0" stroke-width="1.60"/>
<line x1="1356.90" y1="2138.00" x2="1519.80" y2="2138.00" stroke="#f0f0f0" stroke-width="1.60"/>
<line x1="1364.20" y1="2062.20" x2="1364.20" y2="2166.40" stroke="#f0f0f0" stroke-width="1.60"/>
<line x1="1417.10" y1="2062.20" x2="1417.10" y2="2166.40" stroke="#f0f0f0" stroke-width="1.60"/>
<line x1="1470.00" y1="2062.20" x2="1470.00" y2="2166.40" stroke="#f0f0f0" stroke-width="1.60"/>
<line x1="1387.20" y1="1883.20" x2="1436.70" y2="1883.20" stroke="#00a087" stroke-width="1.25"/>
<line x1="1387.20" y1="1880.30" x2="1387.20" y2="1886.10" stroke="#00a087" stroke-width="1.25"/>
<line x1="1436.70" y1="1880.30" x2="1436.70" y2="1886.10" stroke="#00a087" stroke-width="1.25"/>
<circle cx="1412.60" cy="1883.20" r="4.60" fill="#00a087"/>
<line x1="1388.30" y1="1912.30" x2="1437.20" y2="1912.30" stroke="#00a087" stroke-width="1.25"/>
<line x1="1388.30" y1="1909.40" x2="1388.30" y2="1915.20" stroke="#00a087" stroke-width="1.25"/>
<line x1="1437.20" y1="1909.40" x2="1437.20" y2="1915.20" stroke="#00a087" stroke-width="1.25"/>
<circle cx="1413.40" cy="1912.30" r="4.60" fill="#00a087"/>
<line x1="1387.40" y1="1996.00" x2="1468.90" y2="1996.00" stroke="#00a087" stroke-width="1.25"/>
<line x1="1387.40" y1="1993.10" x2="1387.40" y2="1998.90" stroke="#00a087" stroke-width="1.25"/>
<line x1="1468.90" y1="1993.10" x2="1468.90" y2="1998.90" stroke="#00a087" stroke-width="1.25"/>
<circle cx="1431.80" cy="1996.00" r="4.60" fill="#00a087"/>
<line x1="1390.40" y1="2025.10" x2="1469.70" y2="2025.10" stroke="#00a087" stroke-width="1.25"/>
<line x1="1390.40" y1="2022.20" x2="1390.40" y2="2028.00" stroke="#00a087" stroke-width="1.25"/>
<line x1="1469.70" y1="2022.20" x2="1469.70" y2="2028.00" stroke="#00a087" stroke-width="1.25"/>
<circle cx="1434.00" cy="2025.10" r="4.60" fill="#00a087"/>
<line x1="1400.40" y1="2108.90" x2="1512.50" y2="2108.90" stroke="#00a087" stroke-width="1.25"/>
<line x1="1400.40" y1="2106.00" x2="1400.40" y2="2111.80" stroke="#00a087" stroke-width="1.25"/>
<line x1="1512.50" y1="2106.00" x2="1512.50" y2="2111.80" stroke="#00a087" stroke-width="1.25"/>
<circle cx="1463.50" cy="2108.90" r="4.60" fill="#00a087"/>
<line x1="1402.10" y1="2138.00" x2="1508.40" y2="2138.00" stroke="#00a087" stroke-width="1.25"/>
<line x1="1402.10" y1="2135.10" x2="1402.10" y2="2140.90" stroke="#00a087" stroke-width="1.25"/>
<line x1="1508.40" y1="2135.10" x2="1508.40" y2="2140.90" stroke="#00a087" stroke-width="1.25"/>
<circle cx="1462.90" cy="2138.00" r="4.60" fill="#00a087"/>
<line x1="1364.20" y1="1941.60" x2="1364.20" y2="1836.50" stroke="#000" stroke-width="1.60" stroke-dasharray="5.1 4.3"/>
<line x1="1356.90" y1="1836.50" x2="1356.90" y2="1941.60" stroke="#000" stroke-width="1.60"/>
<line x1="1352.40" y1="1854.10" x2="1356.90" y2="1854.10" stroke="#000" stroke-width="1.60"/>
<line x1="1352.40" y1="1883.20" x2="1356.90" y2="1883.20" stroke="#000" stroke-width="1.60"/>
<line x1="1352.40" y1="1912.30" x2="1356.90" y2="1912.30" stroke="#000" stroke-width="1.60"/>
<line x1="1364.20" y1="2054.40" x2="1364.20" y2="1949.30" stroke="#000" stroke-width="1.60" stroke-dasharray="5.1 4.3"/>
<line x1="1356.90" y1="1949.30" x2="1356.90" y2="2054.40" stroke="#000" stroke-width="1.60"/>
<line x1="1352.40" y1="1966.90" x2="1356.90" y2="1966.90" stroke="#000" stroke-width="1.60"/>
<line x1="1352.40" y1="1996.00" x2="1356.90" y2="1996.00" stroke="#000" stroke-width="1.60"/>
<line x1="1352.40" y1="2025.10" x2="1356.90" y2="2025.10" stroke="#000" stroke-width="1.60"/>
<line x1="1364.20" y1="2166.90" x2="1364.20" y2="2062.20" stroke="#000" stroke-width="1.60" stroke-dasharray="5.1 4.3"/>
<line x1="1356.90" y1="2062.20" x2="1356.90" y2="2167.20" stroke="#000" stroke-width="1.60"/>
<line x1="1352.40" y1="2079.80" x2="1356.90" y2="2079.80" stroke="#000" stroke-width="1.60"/>
<line x1="1352.40" y1="2108.90" x2="1356.90" y2="2108.90" stroke="#000" stroke-width="1.60"/>
<line x1="1352.40" y1="2138.00" x2="1356.90" y2="2138.00" stroke="#000" stroke-width="1.60"/>
<line x1="1356.10" y1="2166.40" x2="1519.80" y2="2166.40" stroke="#000" stroke-width="1.60"/>
<line x1="1364.20" y1="2166.40" x2="1364.20" y2="2170.90" stroke="#000" stroke-width="1.60"/>
<text x="1364.20" y="2183.10" font-size="13.00" text-anchor="middle">0.0</text>
<line x1="1417.10" y1="2166.40" x2="1417.10" y2="2170.90" stroke="#000" stroke-width="1.60"/>
<text x="1417.10" y="2183.10" font-size="13.00" text-anchor="middle">0.5</text>
<line x1="1470.00" y1="2166.40" x2="1470.00" y2="2170.90" stroke="#000" stroke-width="1.60"/>
<text x="1470.00" y="2183.10" font-size="13.00" text-anchor="middle">1.0</text>
<text x="1438.35" y="2206.30" font-size="16.35" font-weight="bold" text-anchor="middle">log10–Odds Ratio</text>
<text x="1438.35" y="2224.10" font-size="16.35" font-weight="bold" text-anchor="middle">(95% CI)</text>
<line x1="1551.40" y1="1856.10" x2="1688.90" y2="1856.10" stroke="#f0f0f0" stroke-width="1.60"/>
<line x1="1551.40" y1="1888.95" x2="1688.90" y2="1888.95" stroke="#f0f0f0" stroke-width="1.60"/>
<line x1="1551.40" y1="1921.80" x2="1688.90" y2="1921.80" stroke="#f0f0f0" stroke-width="1.60"/>
<line x1="1557.70" y1="1836.50" x2="1557.70" y2="1941.60" stroke="#f0f0f0" stroke-width="1.60"/>
<line x1="1601.17" y1="1836.50" x2="1601.17" y2="1941.60" stroke="#f0f0f0" stroke-width="1.60"/>
<line x1="1644.64" y1="1836.50" x2="1644.64" y2="1941.60" stroke="#f0f0f0" stroke-width="1.60"/>
<line x1="1688.11" y1="1836.50" x2="1688.11" y2="1941.60" stroke="#f0f0f0" stroke-width="1.60"/>
<line x1="1551.40" y1="1968.90" x2="1688.90" y2="1968.90" stroke="#f0f0f0" stroke-width="1.60"/>
<line x1="1551.40" y1="2001.75" x2="1688.90" y2="2001.75" stroke="#f0f0f0" stroke-width="1.60"/>
<line x1="1551.40" y1="2034.60" x2="1688.90" y2="2034.60" stroke="#f0f0f0" stroke-width="1.60"/>
<line x1="1557.70" y1="1949.30" x2="1557.70" y2="2054.40" stroke="#f0f0f0" stroke-width="1.60"/>
<line x1="1601.17" y1="1949.30" x2="1601.17" y2="2054.40" stroke="#f0f0f0" stroke-width="1.60"/>
<line x1="1644.64" y1="1949.30" x2="1644.64" y2="2054.40" stroke="#f0f0f0" stroke-width="1.60"/>
<line x1="1688.11" y1="1949.30" x2="1688.11" y2="2054.40" stroke="#f0f0f0" stroke-width="1.60"/>
<line x1="1551.40" y1="2081.80" x2="1688.90" y2="2081.80" stroke="#f0f0f0" stroke-width="1.60"/>
<line x1="1551.40" y1="2114.65" x2="1688.90" y2="2114.65" stroke="#f0f0f0" stroke-width="1.60"/>
<line x1="1551.40" y1="2147.50" x2="1688.90" y2="2147.50" stroke="#f0f0f0" stroke-width="1.60"/>
<line x1="1557.70" y1="2062.20" x2="1557.70" y2="2166.40" stroke="#f0f0f0" stroke-width="1.60"/>
<line x1="1601.17" y1="2062.20" x2="1601.17" y2="2166.40" stroke="#f0f0f0" stroke-width="1.60"/>
<line x1="1644.64" y1="2062.20" x2="1644.64" y2="2166.40" stroke="#f0f0f0" stroke-width="1.60"/>
<line x1="1688.11" y1="2062.20" x2="1688.11" y2="2166.40" stroke="#f0f0f0" stroke-width="1.60"/>
<rect x="1557.70" y="1841.32" width="125.83" height="29.57" fill="#00a087" stroke="#000" stroke-width="1.40"/>
<text x="1690.00" y="1860.70" font-size="12.00" font-weight="bold">22/76</text>
<rect x="1557.70" y="1874.17" width="54.14" height="29.57" fill="#00a087" stroke="#000" stroke-width="1.40"/>
<text x="1690.00" y="1893.55" font-size="12.00" font-weight="bold">784/6295</text>
<rect x="1557.70" y="1907.02" width="53.42" height="29.57" fill="#00a087" stroke="#000" stroke-width="1.40"/>
<text x="1690.00" y="1926.40" font-size="12.00" font-weight="bold">9096/74023</text>
<rect x="1557.70" y="1954.12" width="40.04" height="29.57" fill="#00a087" stroke="#000" stroke-width="1.40"/>
<text x="1690.00" y="1973.50" font-size="12.00" font-weight="bold">7/76</text>
<rect x="1557.70" y="1986.97" width="9.87" height="29.57" fill="#00a087" stroke="#000" stroke-width="1.40"/>
<text x="1690.00" y="2006.35" font-size="12.00" font-weight="bold">143/6295</text>
<rect x="1557.70" y="2019.82" width="9.45" height="29.57" fill="#00a087" stroke="#000" stroke-width="1.40"/>
<text x="1690.00" y="2039.20" font-size="12.00" font-weight="bold">1609/74023</text>
<rect x="1557.70" y="2067.02" width="22.88" height="29.57" fill="#00a087" stroke="#000" stroke-width="1.40"/>
<text x="1690.00" y="2086.40" font-size="12.00" font-weight="bold">4/76</text>
<rect x="1557.70" y="2099.87" width="2.76" height="29.57" fill="#00a087" stroke="#000" stroke-width="1.40"/>
<text x="1690.00" y="2119.25" font-size="12.00" font-weight="bold">40/6295</text>
<rect x="1557.70" y="2132.72" width="2.80" height="29.57" fill="#00a087" stroke="#000" stroke-width="1.40"/>
<text x="1690.00" y="2152.10" font-size="12.00" font-weight="bold">476/74023</text>
<line x1="1551.40" y1="1836.50" x2="1551.40" y2="1941.60" stroke="#000" stroke-width="1.60"/>
<line x1="1546.90" y1="1856.10" x2="1551.40" y2="1856.10" stroke="#000" stroke-width="1.60"/>
<line x1="1546.90" y1="1888.95" x2="1551.40" y2="1888.95" stroke="#000" stroke-width="1.60"/>
<line x1="1546.90" y1="1921.80" x2="1551.40" y2="1921.80" stroke="#000" stroke-width="1.60"/>
<line x1="1551.40" y1="1949.30" x2="1551.40" y2="2054.40" stroke="#000" stroke-width="1.60"/>
<line x1="1546.90" y1="1968.90" x2="1551.40" y2="1968.90" stroke="#000" stroke-width="1.60"/>
<line x1="1546.90" y1="2001.75" x2="1551.40" y2="2001.75" stroke="#000" stroke-width="1.60"/>
<line x1="1546.90" y1="2034.60" x2="1551.40" y2="2034.60" stroke="#000" stroke-width="1.60"/>
<line x1="1551.40" y1="2062.20" x2="1551.40" y2="2167.20" stroke="#000" stroke-width="1.60"/>
<line x1="1546.90" y1="2081.80" x2="1551.40" y2="2081.80" stroke="#000" stroke-width="1.60"/>
<line x1="1546.90" y1="2114.65" x2="1551.40" y2="2114.65" stroke="#000" stroke-width="1.60"/>
<line x1="1546.90" y1="2147.50" x2="1551.40" y2="2147.50" stroke="#000" stroke-width="1.60"/>
<line x1="1550.60" y1="2166.40" x2="1688.90" y2="2166.40" stroke="#000" stroke-width="1.60"/>
<line x1="1557.70" y1="2166.40" x2="1557.70" y2="2170.90" stroke="#000" stroke-width="1.60"/>
<text x="1557.70" y="2183.10" font-size="13.00" text-anchor="middle">0</text>
<line x1="1601.17" y1="2166.40" x2="1601.17" y2="2170.90" stroke="#000" stroke-width="1.60"/>
<text x="1601.17" y="2183.10" font-size="13.00" text-anchor="middle">10</text>
<line x1="1644.64" y1="2166.40" x2="1644.64" y2="2170.90" stroke="#000" stroke-width="1.60"/>
<text x="1644.64" y="2183.10" font-size="13.00" text-anchor="middle">20</text>
<line x1="1688.11" y1="2166.40" x2="1688.11" y2="2170.90" stroke="#000" stroke-width="1.60"/>
<text x="1688.11" y="2183.10" font-size="13.00" text-anchor="middle">30</text>
<text x="1620.15" y="2206.30" font-size="16.35" font-weight="bold" text-anchor="middle">% Cohort P/LP</text>
</g>
</svg>
</body>
</html>
